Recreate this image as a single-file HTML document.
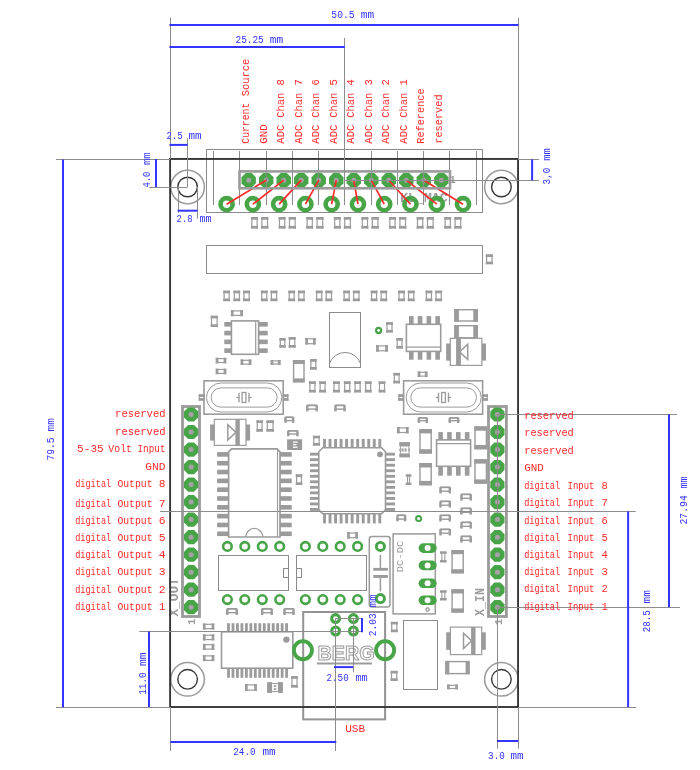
<!DOCTYPE html>
<html><head><meta charset="utf-8"><title>Board dimensions</title>
<style>html,body{margin:0;padding:0;background:#fff}svg{display:block}</style></head><body>
<svg width="700" height="770" viewBox="0 0 700 770" style="will-change:transform">
<rect width="700" height="770" fill="#ffffff"/>
<g id="silk">
<rect x="206.5" y="149.5" width="276" height="63" fill="none" stroke="#8c8c8c" stroke-width="1"/>
<rect x="206.5" y="245.5" width="276" height="28" fill="none" stroke="#8c8c8c" stroke-width="1"/>
<rect x="251" y="217" width="7" height="2.7" fill="#9b9b9b"/>
<rect x="251" y="225.9" width="7" height="2.7" fill="#9b9b9b"/>
<rect x="251.3" y="217" width="1.2" height="11.6" fill="#9b9b9b"/>
<rect x="256.5" y="217" width="1.2" height="11.6" fill="#9b9b9b"/>
<rect x="261" y="217" width="7.4" height="2.7" fill="#9b9b9b"/>
<rect x="261" y="225.9" width="7.4" height="2.7" fill="#9b9b9b"/>
<rect x="261.3" y="217" width="1.2" height="11.6" fill="#9b9b9b"/>
<rect x="266.9" y="217" width="1.2" height="11.6" fill="#9b9b9b"/>
<rect x="278.6" y="217" width="7" height="2.7" fill="#9b9b9b"/>
<rect x="278.6" y="225.9" width="7" height="2.7" fill="#9b9b9b"/>
<rect x="278.9" y="217" width="1.2" height="11.6" fill="#9b9b9b"/>
<rect x="284.1" y="217" width="1.2" height="11.6" fill="#9b9b9b"/>
<rect x="288.6" y="217" width="7.4" height="2.7" fill="#9b9b9b"/>
<rect x="288.6" y="225.9" width="7.4" height="2.7" fill="#9b9b9b"/>
<rect x="288.9" y="217" width="1.2" height="11.6" fill="#9b9b9b"/>
<rect x="294.5" y="217" width="1.2" height="11.6" fill="#9b9b9b"/>
<rect x="306.2" y="217" width="7" height="2.7" fill="#9b9b9b"/>
<rect x="306.2" y="225.9" width="7" height="2.7" fill="#9b9b9b"/>
<rect x="306.5" y="217" width="1.2" height="11.6" fill="#9b9b9b"/>
<rect x="311.7" y="217" width="1.2" height="11.6" fill="#9b9b9b"/>
<rect x="316.2" y="217" width="7.4" height="2.7" fill="#9b9b9b"/>
<rect x="316.2" y="225.9" width="7.4" height="2.7" fill="#9b9b9b"/>
<rect x="316.5" y="217" width="1.2" height="11.6" fill="#9b9b9b"/>
<rect x="322.1" y="217" width="1.2" height="11.6" fill="#9b9b9b"/>
<rect x="333.8" y="217" width="7" height="2.7" fill="#9b9b9b"/>
<rect x="333.8" y="225.9" width="7" height="2.7" fill="#9b9b9b"/>
<rect x="334.1" y="217" width="1.2" height="11.6" fill="#9b9b9b"/>
<rect x="339.3" y="217" width="1.2" height="11.6" fill="#9b9b9b"/>
<rect x="343.8" y="217" width="7.4" height="2.7" fill="#9b9b9b"/>
<rect x="343.8" y="225.9" width="7.4" height="2.7" fill="#9b9b9b"/>
<rect x="344.1" y="217" width="1.2" height="11.6" fill="#9b9b9b"/>
<rect x="349.7" y="217" width="1.2" height="11.6" fill="#9b9b9b"/>
<rect x="361.4" y="217" width="7" height="2.7" fill="#9b9b9b"/>
<rect x="361.4" y="225.9" width="7" height="2.7" fill="#9b9b9b"/>
<rect x="361.7" y="217" width="1.2" height="11.6" fill="#9b9b9b"/>
<rect x="366.9" y="217" width="1.2" height="11.6" fill="#9b9b9b"/>
<rect x="371.4" y="217" width="7.4" height="2.7" fill="#9b9b9b"/>
<rect x="371.4" y="225.9" width="7.4" height="2.7" fill="#9b9b9b"/>
<rect x="371.7" y="217" width="1.2" height="11.6" fill="#9b9b9b"/>
<rect x="377.3" y="217" width="1.2" height="11.6" fill="#9b9b9b"/>
<rect x="389" y="217" width="7" height="2.7" fill="#9b9b9b"/>
<rect x="389" y="225.9" width="7" height="2.7" fill="#9b9b9b"/>
<rect x="389.3" y="217" width="1.2" height="11.6" fill="#9b9b9b"/>
<rect x="394.5" y="217" width="1.2" height="11.6" fill="#9b9b9b"/>
<rect x="399" y="217" width="7.4" height="2.7" fill="#9b9b9b"/>
<rect x="399" y="225.9" width="7.4" height="2.7" fill="#9b9b9b"/>
<rect x="399.3" y="217" width="1.2" height="11.6" fill="#9b9b9b"/>
<rect x="404.9" y="217" width="1.2" height="11.6" fill="#9b9b9b"/>
<rect x="416.6" y="217" width="7" height="2.7" fill="#9b9b9b"/>
<rect x="416.6" y="225.9" width="7" height="2.7" fill="#9b9b9b"/>
<rect x="416.9" y="217" width="1.2" height="11.6" fill="#9b9b9b"/>
<rect x="422.1" y="217" width="1.2" height="11.6" fill="#9b9b9b"/>
<rect x="426.6" y="217" width="7.4" height="2.7" fill="#9b9b9b"/>
<rect x="426.6" y="225.9" width="7.4" height="2.7" fill="#9b9b9b"/>
<rect x="426.9" y="217" width="1.2" height="11.6" fill="#9b9b9b"/>
<rect x="432.5" y="217" width="1.2" height="11.6" fill="#9b9b9b"/>
<rect x="444.2" y="217" width="7" height="2.7" fill="#9b9b9b"/>
<rect x="444.2" y="225.9" width="7" height="2.7" fill="#9b9b9b"/>
<rect x="444.5" y="217" width="1.2" height="11.6" fill="#9b9b9b"/>
<rect x="449.7" y="217" width="1.2" height="11.6" fill="#9b9b9b"/>
<rect x="454.2" y="217" width="7.4" height="2.7" fill="#9b9b9b"/>
<rect x="454.2" y="225.9" width="7.4" height="2.7" fill="#9b9b9b"/>
<rect x="454.5" y="217" width="1.2" height="11.6" fill="#9b9b9b"/>
<rect x="460.1" y="217" width="1.2" height="11.6" fill="#9b9b9b"/>
<text x="400.2" y="202.3" fill="#9b9b9b" font-size="13" font-family="Liberation Mono, sans-serif" text-anchor="start" font-weight="bold" textLength="47.5" lengthAdjust="spacingAndGlyphs">KL_MAC</text>
<text x="449.6" y="183.4" fill="#9b9b9b" font-size="10.5" font-family="Liberation Mono, sans-serif" text-anchor="start" font-weight="bold">1</text>
<rect x="485.7" y="254.3" width="7.2" height="2.7" fill="#9b9b9b"/>
<rect x="485.7" y="261.6" width="7.2" height="2.7" fill="#9b9b9b"/>
<rect x="486" y="254.3" width="1.2" height="10" fill="#9b9b9b"/>
<rect x="491.4" y="254.3" width="1.2" height="10" fill="#9b9b9b"/>
<rect x="223.2" y="290.6" width="6.8" height="2.7" fill="#9b9b9b"/>
<rect x="223.2" y="298.5" width="6.8" height="2.7" fill="#9b9b9b"/>
<rect x="223.5" y="290.6" width="1.2" height="10.6" fill="#9b9b9b"/>
<rect x="228.5" y="290.6" width="1.2" height="10.6" fill="#9b9b9b"/>
<rect x="233.4" y="290.6" width="6.8" height="2.7" fill="#9b9b9b"/>
<rect x="233.4" y="298.5" width="6.8" height="2.7" fill="#9b9b9b"/>
<rect x="233.7" y="290.6" width="1.2" height="10.6" fill="#9b9b9b"/>
<rect x="238.7" y="290.6" width="1.2" height="10.6" fill="#9b9b9b"/>
<rect x="243" y="290.6" width="7" height="2.7" fill="#9b9b9b"/>
<rect x="243" y="298.5" width="7" height="2.7" fill="#9b9b9b"/>
<rect x="243.3" y="290.6" width="1.2" height="10.6" fill="#9b9b9b"/>
<rect x="248.5" y="290.6" width="1.2" height="10.6" fill="#9b9b9b"/>
<rect x="260.85" y="290.6" width="6.8" height="2.7" fill="#9b9b9b"/>
<rect x="260.85" y="298.5" width="6.8" height="2.7" fill="#9b9b9b"/>
<rect x="261.15" y="290.6" width="1.2" height="10.6" fill="#9b9b9b"/>
<rect x="266.15" y="290.6" width="1.2" height="10.6" fill="#9b9b9b"/>
<rect x="270.45" y="290.6" width="7" height="2.7" fill="#9b9b9b"/>
<rect x="270.45" y="298.5" width="7" height="2.7" fill="#9b9b9b"/>
<rect x="270.75" y="290.6" width="1.2" height="10.6" fill="#9b9b9b"/>
<rect x="275.95" y="290.6" width="1.2" height="10.6" fill="#9b9b9b"/>
<rect x="288.3" y="290.6" width="6.8" height="2.7" fill="#9b9b9b"/>
<rect x="288.3" y="298.5" width="6.8" height="2.7" fill="#9b9b9b"/>
<rect x="288.6" y="290.6" width="1.2" height="10.6" fill="#9b9b9b"/>
<rect x="293.6" y="290.6" width="1.2" height="10.6" fill="#9b9b9b"/>
<rect x="297.9" y="290.6" width="7" height="2.7" fill="#9b9b9b"/>
<rect x="297.9" y="298.5" width="7" height="2.7" fill="#9b9b9b"/>
<rect x="298.2" y="290.6" width="1.2" height="10.6" fill="#9b9b9b"/>
<rect x="303.4" y="290.6" width="1.2" height="10.6" fill="#9b9b9b"/>
<rect x="315.75" y="290.6" width="6.8" height="2.7" fill="#9b9b9b"/>
<rect x="315.75" y="298.5" width="6.8" height="2.7" fill="#9b9b9b"/>
<rect x="316.05" y="290.6" width="1.2" height="10.6" fill="#9b9b9b"/>
<rect x="321.05" y="290.6" width="1.2" height="10.6" fill="#9b9b9b"/>
<rect x="325.35" y="290.6" width="7" height="2.7" fill="#9b9b9b"/>
<rect x="325.35" y="298.5" width="7" height="2.7" fill="#9b9b9b"/>
<rect x="325.65" y="290.6" width="1.2" height="10.6" fill="#9b9b9b"/>
<rect x="330.85" y="290.6" width="1.2" height="10.6" fill="#9b9b9b"/>
<rect x="343.2" y="290.6" width="6.8" height="2.7" fill="#9b9b9b"/>
<rect x="343.2" y="298.5" width="6.8" height="2.7" fill="#9b9b9b"/>
<rect x="343.5" y="290.6" width="1.2" height="10.6" fill="#9b9b9b"/>
<rect x="348.5" y="290.6" width="1.2" height="10.6" fill="#9b9b9b"/>
<rect x="352.8" y="290.6" width="7" height="2.7" fill="#9b9b9b"/>
<rect x="352.8" y="298.5" width="7" height="2.7" fill="#9b9b9b"/>
<rect x="353.1" y="290.6" width="1.2" height="10.6" fill="#9b9b9b"/>
<rect x="358.3" y="290.6" width="1.2" height="10.6" fill="#9b9b9b"/>
<rect x="370.65" y="290.6" width="6.8" height="2.7" fill="#9b9b9b"/>
<rect x="370.65" y="298.5" width="6.8" height="2.7" fill="#9b9b9b"/>
<rect x="370.95" y="290.6" width="1.2" height="10.6" fill="#9b9b9b"/>
<rect x="375.95" y="290.6" width="1.2" height="10.6" fill="#9b9b9b"/>
<rect x="380.25" y="290.6" width="7" height="2.7" fill="#9b9b9b"/>
<rect x="380.25" y="298.5" width="7" height="2.7" fill="#9b9b9b"/>
<rect x="380.55" y="290.6" width="1.2" height="10.6" fill="#9b9b9b"/>
<rect x="385.75" y="290.6" width="1.2" height="10.6" fill="#9b9b9b"/>
<rect x="398.1" y="290.6" width="6.8" height="2.7" fill="#9b9b9b"/>
<rect x="398.1" y="298.5" width="6.8" height="2.7" fill="#9b9b9b"/>
<rect x="398.4" y="290.6" width="1.2" height="10.6" fill="#9b9b9b"/>
<rect x="403.4" y="290.6" width="1.2" height="10.6" fill="#9b9b9b"/>
<rect x="407.7" y="290.6" width="7" height="2.7" fill="#9b9b9b"/>
<rect x="407.7" y="298.5" width="7" height="2.7" fill="#9b9b9b"/>
<rect x="408" y="290.6" width="1.2" height="10.6" fill="#9b9b9b"/>
<rect x="413.2" y="290.6" width="1.2" height="10.6" fill="#9b9b9b"/>
<rect x="425.55" y="290.6" width="6.8" height="2.7" fill="#9b9b9b"/>
<rect x="425.55" y="298.5" width="6.8" height="2.7" fill="#9b9b9b"/>
<rect x="425.85" y="290.6" width="1.2" height="10.6" fill="#9b9b9b"/>
<rect x="430.85" y="290.6" width="1.2" height="10.6" fill="#9b9b9b"/>
<rect x="435.15" y="290.6" width="7" height="2.7" fill="#9b9b9b"/>
<rect x="435.15" y="298.5" width="7" height="2.7" fill="#9b9b9b"/>
<rect x="435.45" y="290.6" width="1.2" height="10.6" fill="#9b9b9b"/>
<rect x="440.65" y="290.6" width="1.2" height="10.6" fill="#9b9b9b"/>
<rect x="230.9" y="310" width="2.7" height="6.3" fill="#9b9b9b"/>
<rect x="240.2" y="310" width="2.7" height="6.3" fill="#9b9b9b"/>
<rect x="230.9" y="310.3" width="12" height="1.2" fill="#9b9b9b"/>
<rect x="230.9" y="314.8" width="12" height="1.2" fill="#9b9b9b"/>
<rect x="210.6" y="315.7" width="7.4" height="2.7" fill="#9b9b9b"/>
<rect x="210.6" y="324.3" width="7.4" height="2.7" fill="#9b9b9b"/>
<rect x="210.9" y="315.7" width="1.2" height="11.3" fill="#9b9b9b"/>
<rect x="216.5" y="315.7" width="1.2" height="11.3" fill="#9b9b9b"/>
<rect x="231.4" y="320.9" width="27.2" height="33.4" fill="none" stroke="#9b9b9b" stroke-width="1.6"/>
<line x1="255.7" y1="320.9" x2="255.7" y2="354.3" stroke="#9b9b9b" stroke-width="1.2" />
<rect x="224.3" y="322" width="7.1" height="4.6" fill="#9b9b9b"/>
<rect x="258.6" y="322" width="9.1" height="4.6" fill="#9b9b9b"/>
<rect x="224.3" y="330.78" width="7.1" height="4.6" fill="#9b9b9b"/>
<rect x="258.6" y="330.78" width="9.1" height="4.6" fill="#9b9b9b"/>
<rect x="224.3" y="339.56" width="7.1" height="4.6" fill="#9b9b9b"/>
<rect x="258.6" y="339.56" width="9.1" height="4.6" fill="#9b9b9b"/>
<rect x="224.3" y="348.34" width="7.1" height="4.6" fill="#9b9b9b"/>
<rect x="258.6" y="348.34" width="9.1" height="4.6" fill="#9b9b9b"/>
<rect x="279.4" y="338" width="6.3" height="2.7" fill="#9b9b9b"/>
<rect x="279.4" y="345" width="6.3" height="2.7" fill="#9b9b9b"/>
<rect x="279.7" y="338" width="1.2" height="9.7" fill="#9b9b9b"/>
<rect x="284.2" y="338" width="1.2" height="9.7" fill="#9b9b9b"/>
<rect x="288.6" y="337" width="7.1" height="2.7" fill="#9b9b9b"/>
<rect x="288.6" y="345" width="7.1" height="2.7" fill="#9b9b9b"/>
<rect x="288.9" y="337" width="1.2" height="10.7" fill="#9b9b9b"/>
<rect x="294.2" y="337" width="1.2" height="10.7" fill="#9b9b9b"/>
<rect x="305.3" y="337.9" width="2.7" height="6.7" fill="#9b9b9b"/>
<rect x="313" y="337.9" width="2.7" height="6.7" fill="#9b9b9b"/>
<rect x="305.3" y="338.2" width="10.4" height="1.2" fill="#9b9b9b"/>
<rect x="305.3" y="343.1" width="10.4" height="1.2" fill="#9b9b9b"/>
<rect x="215.7" y="357.7" width="2.7" height="5.7" fill="#9b9b9b"/>
<rect x="223.6" y="357.7" width="2.7" height="5.7" fill="#9b9b9b"/>
<rect x="215.7" y="358" width="10.6" height="1.2" fill="#9b9b9b"/>
<rect x="215.7" y="361.9" width="10.6" height="1.2" fill="#9b9b9b"/>
<rect x="215.7" y="368.6" width="2.7" height="5.7" fill="#9b9b9b"/>
<rect x="223.6" y="368.6" width="2.7" height="5.7" fill="#9b9b9b"/>
<rect x="215.7" y="368.9" width="10.6" height="1.2" fill="#9b9b9b"/>
<rect x="215.7" y="372.8" width="10.6" height="1.2" fill="#9b9b9b"/>
<rect x="240.6" y="359.4" width="2.7" height="5.6" fill="#9b9b9b"/>
<rect x="248.7" y="359.4" width="2.7" height="5.6" fill="#9b9b9b"/>
<rect x="240.6" y="359.7" width="10.8" height="1.2" fill="#9b9b9b"/>
<rect x="240.6" y="363.5" width="10.8" height="1.2" fill="#9b9b9b"/>
<rect x="270.6" y="360" width="2.7" height="4.9" fill="#9b9b9b"/>
<rect x="277.9" y="360" width="2.7" height="4.9" fill="#9b9b9b"/>
<rect x="270.6" y="360.3" width="10" height="1.2" fill="#9b9b9b"/>
<rect x="270.6" y="363.4" width="10" height="1.2" fill="#9b9b9b"/>
<rect x="293.6" y="360.7" width="10.4" height="21" fill="none" stroke="#9b9b9b" stroke-width="1.4"/>
<rect x="292.9" y="360" width="11.8" height="4" fill="#9b9b9b"/>
<rect x="292.9" y="378.4" width="11.8" height="4" fill="#9b9b9b"/>
<rect x="310" y="359" width="6.7" height="2.7" fill="#9b9b9b"/>
<rect x="310" y="367" width="6.7" height="2.7" fill="#9b9b9b"/>
<rect x="310.3" y="359" width="1.2" height="10.7" fill="#9b9b9b"/>
<rect x="315.2" y="359" width="1.2" height="10.7" fill="#9b9b9b"/>
<rect x="329.5" y="312.5" width="31" height="55" fill="none" stroke="#8c8c8c" stroke-width="1"/>
<path d="M329.4 363.6 A16.5 16.5 0 0 1 360.6 363.6" fill="none" stroke="#8c8c8c" stroke-width="1"/>
<rect x="309" y="381.3" width="6.8" height="2.7" fill="#9b9b9b"/>
<rect x="309" y="389.8" width="6.8" height="2.7" fill="#9b9b9b"/>
<rect x="309.3" y="381.3" width="1.2" height="11.2" fill="#9b9b9b"/>
<rect x="314.3" y="381.3" width="1.2" height="11.2" fill="#9b9b9b"/>
<rect x="319.2" y="381.3" width="6.8" height="2.7" fill="#9b9b9b"/>
<rect x="319.2" y="389.8" width="6.8" height="2.7" fill="#9b9b9b"/>
<rect x="319.5" y="381.3" width="1.2" height="11.2" fill="#9b9b9b"/>
<rect x="324.5" y="381.3" width="1.2" height="11.2" fill="#9b9b9b"/>
<rect x="333.1" y="381.3" width="6.8" height="2.7" fill="#9b9b9b"/>
<rect x="333.1" y="389.8" width="6.8" height="2.7" fill="#9b9b9b"/>
<rect x="333.4" y="381.3" width="1.2" height="11.2" fill="#9b9b9b"/>
<rect x="338.4" y="381.3" width="1.2" height="11.2" fill="#9b9b9b"/>
<rect x="343.8" y="381.3" width="6.8" height="2.7" fill="#9b9b9b"/>
<rect x="343.8" y="389.8" width="6.8" height="2.7" fill="#9b9b9b"/>
<rect x="344.1" y="381.3" width="1.2" height="11.2" fill="#9b9b9b"/>
<rect x="349.1" y="381.3" width="1.2" height="11.2" fill="#9b9b9b"/>
<rect x="354.2" y="381.3" width="6.8" height="2.7" fill="#9b9b9b"/>
<rect x="354.2" y="389.8" width="6.8" height="2.7" fill="#9b9b9b"/>
<rect x="354.5" y="381.3" width="1.2" height="11.2" fill="#9b9b9b"/>
<rect x="359.5" y="381.3" width="1.2" height="11.2" fill="#9b9b9b"/>
<rect x="364.8" y="381.3" width="6.8" height="2.7" fill="#9b9b9b"/>
<rect x="364.8" y="389.8" width="6.8" height="2.7" fill="#9b9b9b"/>
<rect x="365.1" y="381.3" width="1.2" height="11.2" fill="#9b9b9b"/>
<rect x="370.1" y="381.3" width="1.2" height="11.2" fill="#9b9b9b"/>
<rect x="378.6" y="381.3" width="6.8" height="2.7" fill="#9b9b9b"/>
<rect x="378.6" y="389.8" width="6.8" height="2.7" fill="#9b9b9b"/>
<rect x="378.9" y="381.3" width="1.2" height="11.2" fill="#9b9b9b"/>
<rect x="383.9" y="381.3" width="1.2" height="11.2" fill="#9b9b9b"/>
<circle cx="378.6" cy="330.4" r="3.6" fill="#47a447"/>
<circle cx="378.6" cy="330.4" r="1.4" fill="#fff"/>
<rect x="386.1" y="322.1" width="6.8" height="2.7" fill="#9b9b9b"/>
<rect x="386.1" y="329.9" width="6.8" height="2.7" fill="#9b9b9b"/>
<rect x="386.4" y="322.1" width="1.2" height="10.5" fill="#9b9b9b"/>
<rect x="391.4" y="322.1" width="1.2" height="10.5" fill="#9b9b9b"/>
<rect x="376.1" y="345" width="2.7" height="6.7" fill="#9b9b9b"/>
<rect x="385.2" y="345" width="2.7" height="6.7" fill="#9b9b9b"/>
<rect x="376.1" y="345.3" width="11.8" height="1.2" fill="#9b9b9b"/>
<rect x="376.1" y="350.2" width="11.8" height="1.2" fill="#9b9b9b"/>
<rect x="396.3" y="338" width="6.6" height="2.7" fill="#9b9b9b"/>
<rect x="396.3" y="345.9" width="6.6" height="2.7" fill="#9b9b9b"/>
<rect x="396.6" y="338" width="1.2" height="10.6" fill="#9b9b9b"/>
<rect x="401.4" y="338" width="1.2" height="10.6" fill="#9b9b9b"/>
<rect x="406.4" y="324.3" width="34.3" height="27.1" fill="none" stroke="#9b9b9b" stroke-width="1.6"/>
<line x1="406.4" y1="347.1" x2="440.7" y2="347.1" stroke="#9b9b9b" stroke-width="1.4" />
<rect x="409" y="316.1" width="4.6" height="8.2" fill="#9b9b9b"/>
<rect x="409" y="351.4" width="4.6" height="8.3" fill="#9b9b9b"/>
<rect x="417.78" y="316.1" width="4.6" height="8.2" fill="#9b9b9b"/>
<rect x="417.78" y="351.4" width="4.6" height="8.3" fill="#9b9b9b"/>
<rect x="426.56" y="316.1" width="4.6" height="8.2" fill="#9b9b9b"/>
<rect x="426.56" y="351.4" width="4.6" height="8.3" fill="#9b9b9b"/>
<rect x="435.34" y="316.1" width="4.6" height="8.2" fill="#9b9b9b"/>
<rect x="435.34" y="351.4" width="4.6" height="8.3" fill="#9b9b9b"/>
<rect x="455" y="309.7" width="22.2" height="11.3" fill="none" stroke="#9b9b9b" stroke-width="1.4"/>
<rect x="454.3" y="309" width="4.6" height="12.7" fill="#9b9b9b"/>
<rect x="473.3" y="309" width="4.6" height="12.7" fill="#9b9b9b"/>
<rect x="455" y="325.7" width="22.2" height="12.1" fill="none" stroke="#9b9b9b" stroke-width="1.4"/>
<rect x="454.3" y="325" width="4.6" height="13.5" fill="#9b9b9b"/>
<rect x="473.3" y="325" width="4.6" height="13.5" fill="#9b9b9b"/>
<rect x="450.3" y="338.3" width="31.6" height="27.1" fill="#fff" stroke="#9b9b9b" stroke-width="1.2"/>
<rect x="446.1" y="343.5" width="4.2" height="17.1" fill="#9b9b9b"/>
<rect x="481.9" y="343.5" width="4.1" height="17.1" fill="#9b9b9b"/>
<rect x="456.1" y="338.3" width="4.8" height="27.1" fill="#9b9b9b"/>
<path d="M459.5 351.85 L467.7 344.25 L467.7 359.45 Z" fill="none" stroke="#9b9b9b" stroke-width="1.5"/>
<rect x="393.4" y="372.9" width="6.6" height="2.7" fill="#9b9b9b"/>
<rect x="393.4" y="380.7" width="6.6" height="2.7" fill="#9b9b9b"/>
<rect x="393.7" y="372.9" width="1.2" height="10.5" fill="#9b9b9b"/>
<rect x="398.5" y="372.9" width="1.2" height="10.5" fill="#9b9b9b"/>
<rect x="417.7" y="371.4" width="2.7" height="5.6" fill="#9b9b9b"/>
<rect x="424.8" y="371.4" width="2.7" height="5.6" fill="#9b9b9b"/>
<rect x="417.7" y="371.7" width="9.8" height="1.2" fill="#9b9b9b"/>
<rect x="417.7" y="375.5" width="9.8" height="1.2" fill="#9b9b9b"/>
<rect x="204" y="380.8" width="79.2" height="33.4" fill="none" stroke="#9b9b9b" stroke-width="1.6"/>
<rect x="198.6" y="394.2" width="5.9" height="2.7" fill="#9b9b9b"/>
<rect x="198.6" y="398.1" width="5.9" height="2.7" fill="#9b9b9b"/>
<rect x="198.9" y="394.2" width="1.2" height="6.6" fill="#9b9b9b"/>
<rect x="203" y="394.2" width="1.2" height="6.6" fill="#9b9b9b"/>
<rect x="282.7" y="394.2" width="5.9" height="2.7" fill="#9b9b9b"/>
<rect x="282.7" y="398.1" width="5.9" height="2.7" fill="#9b9b9b"/>
<rect x="283" y="394.2" width="1.2" height="6.6" fill="#9b9b9b"/>
<rect x="287.1" y="394.2" width="1.2" height="6.6" fill="#9b9b9b"/>
<rect x="206.5" y="383" width="75.3" height="29" fill="none" stroke="#9b9b9b" stroke-width="1" rx="14.5"/>
<rect x="211.2" y="387.9" width="65.9" height="19.2" fill="none" stroke="#9b9b9b" stroke-width="1" rx="9.6"/>
<line x1="236.3" y1="397.5" x2="239" y2="397.5" stroke="#9b9b9b" stroke-width="1.3" />
<line x1="249" y1="397.5" x2="251.7" y2="397.5" stroke="#9b9b9b" stroke-width="1.3" />
<line x1="239" y1="392.7" x2="239" y2="402.3" stroke="#9b9b9b" stroke-width="1.4" />
<line x1="249" y1="392.7" x2="249" y2="402.3" stroke="#9b9b9b" stroke-width="1.4" />
<rect x="242.1" y="392.5" width="3.8" height="10" fill="none" stroke="#9b9b9b" stroke-width="1.3"/>
<rect x="403.6" y="380.8" width="79" height="33.4" fill="none" stroke="#9b9b9b" stroke-width="1.6"/>
<rect x="398.2" y="394.2" width="5.9" height="2.7" fill="#9b9b9b"/>
<rect x="398.2" y="398.1" width="5.9" height="2.7" fill="#9b9b9b"/>
<rect x="398.5" y="394.2" width="1.2" height="6.6" fill="#9b9b9b"/>
<rect x="402.6" y="394.2" width="1.2" height="6.6" fill="#9b9b9b"/>
<rect x="482.1" y="394.2" width="5.9" height="2.7" fill="#9b9b9b"/>
<rect x="482.1" y="398.1" width="5.9" height="2.7" fill="#9b9b9b"/>
<rect x="482.4" y="394.2" width="1.2" height="6.6" fill="#9b9b9b"/>
<rect x="486.5" y="394.2" width="1.2" height="6.6" fill="#9b9b9b"/>
<rect x="406.1" y="383" width="75.1" height="29" fill="none" stroke="#9b9b9b" stroke-width="1" rx="14.5"/>
<rect x="410.8" y="387.9" width="65.7" height="19.2" fill="none" stroke="#9b9b9b" stroke-width="1" rx="9.6"/>
<line x1="435.8" y1="397.5" x2="438.5" y2="397.5" stroke="#9b9b9b" stroke-width="1.3" />
<line x1="448.5" y1="397.5" x2="451.2" y2="397.5" stroke="#9b9b9b" stroke-width="1.3" />
<line x1="438.5" y1="392.7" x2="438.5" y2="402.3" stroke="#9b9b9b" stroke-width="1.4" />
<line x1="448.5" y1="392.7" x2="448.5" y2="402.3" stroke="#9b9b9b" stroke-width="1.4" />
<rect x="441.6" y="392.5" width="3.8" height="10" fill="none" stroke="#9b9b9b" stroke-width="1.3"/>
<rect x="182.5" y="406.5" width="17" height="210" fill="none" stroke="#9b9b9b" stroke-width="2.8"/>
<rect x="488.5" y="406.5" width="17.9" height="210" fill="none" stroke="#9b9b9b" stroke-width="2.8"/>
<rect x="214.3" y="419.3" width="31.7" height="26.1" fill="#fff" stroke="#9b9b9b" stroke-width="1.2"/>
<rect x="210.1" y="424.5" width="4.2" height="16.1" fill="#9b9b9b"/>
<rect x="246" y="424.5" width="4.1" height="16.1" fill="#9b9b9b"/>
<rect x="235.4" y="419.3" width="4.4" height="26.1" fill="#9b9b9b"/>
<path d="M236 432.35 L227.8 424.75 L227.8 439.95 Z" fill="none" stroke="#9b9b9b" stroke-width="1.5"/>
<rect x="256.4" y="420.3" width="6.5" height="2.7" fill="#9b9b9b"/>
<rect x="256.4" y="429" width="6.5" height="2.7" fill="#9b9b9b"/>
<rect x="256.7" y="420.3" width="1.2" height="11.4" fill="#9b9b9b"/>
<rect x="261.4" y="420.3" width="1.2" height="11.4" fill="#9b9b9b"/>
<rect x="266.4" y="420.3" width="7.5" height="2.7" fill="#9b9b9b"/>
<rect x="266.4" y="429" width="7.5" height="2.7" fill="#9b9b9b"/>
<rect x="266.7" y="420.3" width="1.2" height="11.4" fill="#9b9b9b"/>
<rect x="272.4" y="420.3" width="1.2" height="11.4" fill="#9b9b9b"/>
<rect x="284.3" y="417" width="2.4" height="5.9" fill="#9b9b9b"/>
<rect x="291.9" y="417" width="2.4" height="5.9" fill="#9b9b9b"/>
<rect x="285.2" y="416.3" width="8.2" height="1.8" fill="#9b9b9b"/>
<rect x="284.3" y="419.9" width="10" height="1.4" fill="#9b9b9b"/>
<rect x="287" y="430.7" width="2.4" height="5.6" fill="#9b9b9b"/>
<rect x="296.2" y="430.7" width="2.4" height="5.6" fill="#9b9b9b"/>
<rect x="287.9" y="430" width="9.8" height="1.8" fill="#9b9b9b"/>
<rect x="287" y="433.3" width="11.6" height="1.4" fill="#9b9b9b"/>
<rect x="287.1" y="439.3" width="15" height="10.7" fill="#9b9b9b"/>
<rect x="293" y="441.5" width="4.5" height="1.3" fill="#fff"/>
<rect x="293" y="444" width="3.5" height="1.3" fill="#fff"/>
<rect x="293" y="446.6" width="4.5" height="1.3" fill="#fff"/>
<rect x="312.9" y="435.7" width="7.1" height="2.7" fill="#9b9b9b"/>
<rect x="312.9" y="443" width="7.1" height="2.7" fill="#9b9b9b"/>
<rect x="313.2" y="435.7" width="1.2" height="10" fill="#9b9b9b"/>
<rect x="318.5" y="435.7" width="1.2" height="10" fill="#9b9b9b"/>
<rect x="295.7" y="474.3" width="6.6" height="2.7" fill="#9b9b9b"/>
<rect x="295.7" y="482.3" width="6.6" height="2.7" fill="#9b9b9b"/>
<rect x="296" y="474.3" width="1.2" height="10.7" fill="#9b9b9b"/>
<rect x="300.8" y="474.3" width="1.2" height="10.7" fill="#9b9b9b"/>
<rect x="306.1" y="405.1" width="2.4" height="6.3" fill="#9b9b9b"/>
<rect x="315.5" y="405.1" width="2.4" height="6.3" fill="#9b9b9b"/>
<rect x="307" y="404.4" width="10" height="1.8" fill="#9b9b9b"/>
<rect x="306.1" y="408.4" width="11.8" height="1.4" fill="#9b9b9b"/>
<rect x="334.3" y="405.1" width="2.4" height="6.3" fill="#9b9b9b"/>
<rect x="343.3" y="405.1" width="2.4" height="6.3" fill="#9b9b9b"/>
<rect x="335.2" y="404.4" width="9.6" height="1.8" fill="#9b9b9b"/>
<rect x="334.3" y="408.4" width="11.4" height="1.4" fill="#9b9b9b"/>
<path d="M231.6 448.9 L277 448.9 L280 451.9 L280 537 L228.6 537 L228.6 451.9 Z" fill="none" stroke="#9b9b9b" stroke-width="1.7"/>
<line x1="277.5" y1="449.5" x2="277.5" y2="537" stroke="#9b9b9b" stroke-width="1.1" />
<rect x="217.1" y="452.1" width="11.5" height="4.6" fill="#9b9b9b"/>
<rect x="280" y="452.1" width="11.7" height="4.6" fill="#9b9b9b"/>
<rect x="217.1" y="460.92" width="11.5" height="4.6" fill="#9b9b9b"/>
<rect x="280" y="460.92" width="11.7" height="4.6" fill="#9b9b9b"/>
<rect x="217.1" y="469.74" width="11.5" height="4.6" fill="#9b9b9b"/>
<rect x="280" y="469.74" width="11.7" height="4.6" fill="#9b9b9b"/>
<rect x="217.1" y="478.56" width="11.5" height="4.6" fill="#9b9b9b"/>
<rect x="280" y="478.56" width="11.7" height="4.6" fill="#9b9b9b"/>
<rect x="217.1" y="487.38" width="11.5" height="4.6" fill="#9b9b9b"/>
<rect x="280" y="487.38" width="11.7" height="4.6" fill="#9b9b9b"/>
<rect x="217.1" y="496.2" width="11.5" height="4.6" fill="#9b9b9b"/>
<rect x="280" y="496.2" width="11.7" height="4.6" fill="#9b9b9b"/>
<rect x="217.1" y="505.02" width="11.5" height="4.6" fill="#9b9b9b"/>
<rect x="280" y="505.02" width="11.7" height="4.6" fill="#9b9b9b"/>
<rect x="217.1" y="513.84" width="11.5" height="4.6" fill="#9b9b9b"/>
<rect x="280" y="513.84" width="11.7" height="4.6" fill="#9b9b9b"/>
<rect x="217.1" y="522.66" width="11.5" height="4.6" fill="#9b9b9b"/>
<rect x="280" y="522.66" width="11.7" height="4.6" fill="#9b9b9b"/>
<rect x="217.1" y="531.48" width="11.5" height="4.6" fill="#9b9b9b"/>
<rect x="280" y="531.48" width="11.7" height="4.6" fill="#9b9b9b"/>
<path d="M245.7 537 A8.6 8.6 0 0 1 262.9 537" fill="none" stroke="#9b9b9b" stroke-width="1.3"/>
<path d="M322.8 447.8 L381.5 447.8 L385.5 451.8 L385.5 509.8 L381.5 513.8 L322.8 513.8 L318.8 509.8 L318.8 451.8 Z" fill="none" stroke="#9b9b9b" stroke-width="1.6"/>
<rect x="323.05" y="438.9" width="2.9" height="8.9" fill="#9b9b9b"/>
<rect x="323.05" y="513.8" width="2.9" height="9.6" fill="#9b9b9b"/>
<rect x="310" y="452.7" width="8.8" height="2.9" fill="#9b9b9b"/>
<rect x="385.5" y="452.7" width="9.5" height="2.9" fill="#9b9b9b"/>
<rect x="328.58" y="438.9" width="2.9" height="8.9" fill="#9b9b9b"/>
<rect x="328.58" y="513.8" width="2.9" height="9.6" fill="#9b9b9b"/>
<rect x="310" y="458.23" width="8.8" height="2.9" fill="#9b9b9b"/>
<rect x="385.5" y="458.23" width="9.5" height="2.9" fill="#9b9b9b"/>
<rect x="334.11" y="438.9" width="2.9" height="8.9" fill="#9b9b9b"/>
<rect x="334.11" y="513.8" width="2.9" height="9.6" fill="#9b9b9b"/>
<rect x="310" y="463.76" width="8.8" height="2.9" fill="#9b9b9b"/>
<rect x="385.5" y="463.76" width="9.5" height="2.9" fill="#9b9b9b"/>
<rect x="339.64" y="438.9" width="2.9" height="8.9" fill="#9b9b9b"/>
<rect x="339.64" y="513.8" width="2.9" height="9.6" fill="#9b9b9b"/>
<rect x="310" y="469.29" width="8.8" height="2.9" fill="#9b9b9b"/>
<rect x="385.5" y="469.29" width="9.5" height="2.9" fill="#9b9b9b"/>
<rect x="345.17" y="438.9" width="2.9" height="8.9" fill="#9b9b9b"/>
<rect x="345.17" y="513.8" width="2.9" height="9.6" fill="#9b9b9b"/>
<rect x="310" y="474.82" width="8.8" height="2.9" fill="#9b9b9b"/>
<rect x="385.5" y="474.82" width="9.5" height="2.9" fill="#9b9b9b"/>
<rect x="350.7" y="438.9" width="2.9" height="8.9" fill="#9b9b9b"/>
<rect x="350.7" y="513.8" width="2.9" height="9.6" fill="#9b9b9b"/>
<rect x="310" y="480.35" width="8.8" height="2.9" fill="#9b9b9b"/>
<rect x="385.5" y="480.35" width="9.5" height="2.9" fill="#9b9b9b"/>
<rect x="356.23" y="438.9" width="2.9" height="8.9" fill="#9b9b9b"/>
<rect x="356.23" y="513.8" width="2.9" height="9.6" fill="#9b9b9b"/>
<rect x="310" y="485.88" width="8.8" height="2.9" fill="#9b9b9b"/>
<rect x="385.5" y="485.88" width="9.5" height="2.9" fill="#9b9b9b"/>
<rect x="361.76" y="438.9" width="2.9" height="8.9" fill="#9b9b9b"/>
<rect x="361.76" y="513.8" width="2.9" height="9.6" fill="#9b9b9b"/>
<rect x="310" y="491.41" width="8.8" height="2.9" fill="#9b9b9b"/>
<rect x="385.5" y="491.41" width="9.5" height="2.9" fill="#9b9b9b"/>
<rect x="367.29" y="438.9" width="2.9" height="8.9" fill="#9b9b9b"/>
<rect x="367.29" y="513.8" width="2.9" height="9.6" fill="#9b9b9b"/>
<rect x="310" y="496.94" width="8.8" height="2.9" fill="#9b9b9b"/>
<rect x="385.5" y="496.94" width="9.5" height="2.9" fill="#9b9b9b"/>
<rect x="372.82" y="438.9" width="2.9" height="8.9" fill="#9b9b9b"/>
<rect x="372.82" y="513.8" width="2.9" height="9.6" fill="#9b9b9b"/>
<rect x="310" y="502.47" width="8.8" height="2.9" fill="#9b9b9b"/>
<rect x="385.5" y="502.47" width="9.5" height="2.9" fill="#9b9b9b"/>
<rect x="378.35" y="438.9" width="2.9" height="8.9" fill="#9b9b9b"/>
<rect x="378.35" y="513.8" width="2.9" height="9.6" fill="#9b9b9b"/>
<rect x="310" y="508" width="8.8" height="2.9" fill="#9b9b9b"/>
<rect x="385.5" y="508" width="9.5" height="2.9" fill="#9b9b9b"/>
<circle cx="380" cy="454.3" r="2.9" fill="#9b9b9b"/>
<rect x="417.7" y="417.7" width="2.4" height="5.3" fill="#9b9b9b"/>
<rect x="425.6" y="417.7" width="2.4" height="5.3" fill="#9b9b9b"/>
<rect x="418.6" y="417" width="8.5" height="1.8" fill="#9b9b9b"/>
<rect x="417.7" y="420" width="10.3" height="1.4" fill="#9b9b9b"/>
<rect x="448.6" y="417.7" width="2.4" height="5.3" fill="#9b9b9b"/>
<rect x="457" y="417.7" width="2.4" height="5.3" fill="#9b9b9b"/>
<rect x="449.5" y="417" width="9" height="1.8" fill="#9b9b9b"/>
<rect x="448.6" y="420" width="10.8" height="1.4" fill="#9b9b9b"/>
<rect x="397" y="427" width="2.7" height="6.4" fill="#9b9b9b"/>
<rect x="405.9" y="427" width="2.7" height="6.4" fill="#9b9b9b"/>
<rect x="397" y="427.3" width="11.6" height="1.2" fill="#9b9b9b"/>
<rect x="397" y="431.9" width="11.6" height="1.2" fill="#9b9b9b"/>
<rect x="399.3" y="442.1" width="10.7" height="4.4" fill="#9b9b9b"/>
<rect x="399.3" y="453.4" width="10.7" height="4" fill="#9b9b9b"/>
<rect x="399.3" y="448.6" width="1.3" height="2.8" fill="#9b9b9b"/>
<rect x="408.7" y="448.6" width="1.3" height="2.8" fill="#9b9b9b"/>
<rect x="401.6" y="448.4" width="2" height="3.2" fill="#9b9b9b"/>
<rect x="404.6" y="448.4" width="2" height="3.2" fill="#9b9b9b"/>
<rect x="400" y="446.5" width="0.9" height="6.9" fill="#9b9b9b"/>
<rect x="408.4" y="446.5" width="0.9" height="6.9" fill="#9b9b9b"/>
<rect x="420" y="429.7" width="11.2" height="23.2" fill="none" stroke="#9b9b9b" stroke-width="1.4"/>
<rect x="419.3" y="429" width="12.6" height="4.4" fill="#9b9b9b"/>
<rect x="419.3" y="449.2" width="12.6" height="4.4" fill="#9b9b9b"/>
<rect x="420" y="463.8" width="11.2" height="20.8" fill="none" stroke="#9b9b9b" stroke-width="1.4"/>
<rect x="419.3" y="463.1" width="12.6" height="4.4" fill="#9b9b9b"/>
<rect x="419.3" y="480.9" width="12.6" height="4.4" fill="#9b9b9b"/>
<rect x="405.7" y="474.3" width="5.7" height="2.4" fill="#9b9b9b"/>
<rect x="405.7" y="482.6" width="5.7" height="2.4" fill="#9b9b9b"/>
<rect x="407" y="474.3" width="1.1" height="10.7" fill="#9b9b9b"/>
<rect x="409" y="474.3" width="1.1" height="10.7" fill="#9b9b9b"/>
<rect x="436.6" y="439.9" width="34" height="26.4" fill="none" stroke="#9b9b9b" stroke-width="1.6"/>
<line x1="436.6" y1="443.6" x2="470.6" y2="443.6" stroke="#9b9b9b" stroke-width="1.4" />
<rect x="438.3" y="432.1" width="4.6" height="7.9" fill="#9b9b9b"/>
<rect x="438.3" y="466.3" width="4.6" height="9.4" fill="#9b9b9b"/>
<rect x="447.15" y="432.1" width="4.6" height="7.9" fill="#9b9b9b"/>
<rect x="447.15" y="466.3" width="4.6" height="9.4" fill="#9b9b9b"/>
<rect x="456" y="432.1" width="4.6" height="7.9" fill="#9b9b9b"/>
<rect x="456" y="466.3" width="4.6" height="9.4" fill="#9b9b9b"/>
<rect x="464.85" y="432.1" width="4.6" height="7.9" fill="#9b9b9b"/>
<rect x="464.85" y="466.3" width="4.6" height="9.4" fill="#9b9b9b"/>
<rect x="475" y="427.1" width="11.4" height="21.5" fill="none" stroke="#9b9b9b" stroke-width="1.4"/>
<rect x="474.3" y="426.4" width="12.8" height="4.3" fill="#9b9b9b"/>
<rect x="474.3" y="445" width="12.8" height="4.3" fill="#9b9b9b"/>
<rect x="475" y="460" width="11.4" height="23" fill="none" stroke="#9b9b9b" stroke-width="1.4"/>
<rect x="474.3" y="459.3" width="12.8" height="4.3" fill="#9b9b9b"/>
<rect x="474.3" y="479.4" width="12.8" height="4.3" fill="#9b9b9b"/>
<rect x="439.3" y="487.1" width="2.4" height="6.4" fill="#9b9b9b"/>
<rect x="448.6" y="487.1" width="2.4" height="6.4" fill="#9b9b9b"/>
<rect x="440.2" y="486.4" width="9.9" height="1.8" fill="#9b9b9b"/>
<rect x="439.3" y="490.5" width="11.7" height="1.4" fill="#9b9b9b"/>
<rect x="460.3" y="494.1" width="2.4" height="6.5" fill="#9b9b9b"/>
<rect x="469.5" y="494.1" width="2.4" height="6.5" fill="#9b9b9b"/>
<rect x="461.2" y="493.4" width="9.8" height="1.8" fill="#9b9b9b"/>
<rect x="460.3" y="497.6" width="11.6" height="1.4" fill="#9b9b9b"/>
<rect x="439.3" y="501.1" width="2.4" height="6.4" fill="#9b9b9b"/>
<rect x="448.6" y="501.1" width="2.4" height="6.4" fill="#9b9b9b"/>
<rect x="440.2" y="500.4" width="9.9" height="1.8" fill="#9b9b9b"/>
<rect x="439.3" y="504.5" width="11.7" height="1.4" fill="#9b9b9b"/>
<rect x="460.3" y="508.1" width="2.4" height="6.5" fill="#9b9b9b"/>
<rect x="469.5" y="508.1" width="2.4" height="6.5" fill="#9b9b9b"/>
<rect x="461.2" y="507.4" width="9.8" height="1.8" fill="#9b9b9b"/>
<rect x="460.3" y="511.6" width="11.6" height="1.4" fill="#9b9b9b"/>
<rect x="439.3" y="515.1" width="2.4" height="6.4" fill="#9b9b9b"/>
<rect x="448.6" y="515.1" width="2.4" height="6.4" fill="#9b9b9b"/>
<rect x="440.2" y="514.4" width="9.9" height="1.8" fill="#9b9b9b"/>
<rect x="439.3" y="518.5" width="11.7" height="1.4" fill="#9b9b9b"/>
<rect x="460.3" y="522.1" width="2.4" height="6.5" fill="#9b9b9b"/>
<rect x="469.5" y="522.1" width="2.4" height="6.5" fill="#9b9b9b"/>
<rect x="461.2" y="521.4" width="9.8" height="1.8" fill="#9b9b9b"/>
<rect x="460.3" y="525.6" width="11.6" height="1.4" fill="#9b9b9b"/>
<rect x="439.3" y="529.1" width="2.4" height="6.4" fill="#9b9b9b"/>
<rect x="448.6" y="529.1" width="2.4" height="6.4" fill="#9b9b9b"/>
<rect x="440.2" y="528.4" width="9.9" height="1.8" fill="#9b9b9b"/>
<rect x="439.3" y="532.5" width="11.7" height="1.4" fill="#9b9b9b"/>
<rect x="460.3" y="536.1" width="2.4" height="6.5" fill="#9b9b9b"/>
<rect x="469.5" y="536.1" width="2.4" height="6.5" fill="#9b9b9b"/>
<rect x="461.2" y="535.4" width="9.8" height="1.8" fill="#9b9b9b"/>
<rect x="460.3" y="539.6" width="11.6" height="1.4" fill="#9b9b9b"/>
<rect x="396.3" y="515" width="2.4" height="6.4" fill="#9b9b9b"/>
<rect x="403.9" y="515" width="2.4" height="6.4" fill="#9b9b9b"/>
<rect x="397.2" y="514.3" width="8.2" height="1.8" fill="#9b9b9b"/>
<rect x="396.3" y="518.4" width="10" height="1.4" fill="#9b9b9b"/>
<circle cx="418.6" cy="518.6" r="3.5" fill="#47a447"/>
<circle cx="418.6" cy="518.6" r="1.5" fill="#fff"/>
<rect x="347.1" y="532.1" width="2.7" height="6.5" fill="#9b9b9b"/>
<rect x="355.2" y="532.1" width="2.7" height="6.5" fill="#9b9b9b"/>
<rect x="347.1" y="532.4" width="10.8" height="1.2" fill="#9b9b9b"/>
<rect x="347.1" y="537.1" width="10.8" height="1.2" fill="#9b9b9b"/>
<rect x="218.5" y="555.5" width="70" height="35" fill="none" stroke="#8c8c8c" stroke-width="1"/>
<rect x="283.5" y="568.5" width="5" height="9" fill="none" stroke="#8c8c8c" stroke-width="1"/>
<rect x="296.5" y="555.5" width="70" height="35" fill="none" stroke="#8c8c8c" stroke-width="1"/>
<rect x="296.5" y="568.5" width="5" height="9" fill="none" stroke="#8c8c8c" stroke-width="1"/>
<rect x="226.1" y="608.7" width="2.4" height="6.3" fill="#9b9b9b"/>
<rect x="235.5" y="608.7" width="2.4" height="6.3" fill="#9b9b9b"/>
<rect x="227" y="608" width="10" height="1.8" fill="#9b9b9b"/>
<rect x="226.1" y="612" width="11.8" height="1.4" fill="#9b9b9b"/>
<rect x="261" y="608.7" width="2.4" height="6.3" fill="#9b9b9b"/>
<rect x="270.5" y="608.7" width="2.4" height="6.3" fill="#9b9b9b"/>
<rect x="261.9" y="608" width="10.1" height="1.8" fill="#9b9b9b"/>
<rect x="261" y="612" width="11.9" height="1.4" fill="#9b9b9b"/>
<rect x="283.3" y="608.7" width="2.4" height="6.3" fill="#9b9b9b"/>
<rect x="292.3" y="608.7" width="2.4" height="6.3" fill="#9b9b9b"/>
<rect x="284.2" y="608" width="9.6" height="1.8" fill="#9b9b9b"/>
<rect x="283.3" y="612" width="11.4" height="1.4" fill="#9b9b9b"/>
<text x="177.7" y="616.6" fill="#9b9b9b" font-size="12.5" font-family="Liberation Mono, sans-serif" text-anchor="start" font-weight="bold" textLength="38.5" lengthAdjust="spacingAndGlyphs" transform="rotate(-90 177.7 616.6)">X_OUT</text>
<text x="194.8" y="625" fill="#9b9b9b" font-size="10.5" font-family="Liberation Mono, sans-serif" text-anchor="start" font-weight="bold" transform="rotate(-90 194.8 625)">1</text>
<text x="484.1" y="615.9" fill="#9b9b9b" font-size="12.5" font-family="Liberation Mono, sans-serif" text-anchor="start" font-weight="bold" textLength="28" lengthAdjust="spacingAndGlyphs" transform="rotate(-90 484.1 615.9)">X_IN</text>
<text x="501.9" y="625" fill="#9b9b9b" font-size="10.5" font-family="Liberation Mono, sans-serif" text-anchor="start" font-weight="bold" transform="rotate(-90 501.9 625)">1</text>
<rect x="202.9" y="623.4" width="2.7" height="6.2" fill="#9b9b9b"/>
<rect x="211.6" y="623.4" width="2.7" height="6.2" fill="#9b9b9b"/>
<rect x="202.9" y="623.7" width="11.4" height="1.2" fill="#9b9b9b"/>
<rect x="202.9" y="628.1" width="11.4" height="1.2" fill="#9b9b9b"/>
<rect x="202.9" y="634.3" width="2.7" height="6.2" fill="#9b9b9b"/>
<rect x="211.6" y="634.3" width="2.7" height="6.2" fill="#9b9b9b"/>
<rect x="202.9" y="634.6" width="11.4" height="1.2" fill="#9b9b9b"/>
<rect x="202.9" y="639" width="11.4" height="1.2" fill="#9b9b9b"/>
<rect x="202.9" y="643.8" width="2.7" height="6.2" fill="#9b9b9b"/>
<rect x="211.6" y="643.8" width="2.7" height="6.2" fill="#9b9b9b"/>
<rect x="202.9" y="644.1" width="11.4" height="1.2" fill="#9b9b9b"/>
<rect x="202.9" y="648.5" width="11.4" height="1.2" fill="#9b9b9b"/>
<rect x="202.9" y="655" width="2.7" height="6.2" fill="#9b9b9b"/>
<rect x="211.6" y="655" width="2.7" height="6.2" fill="#9b9b9b"/>
<rect x="202.9" y="655.3" width="11.4" height="1.2" fill="#9b9b9b"/>
<rect x="202.9" y="659.7" width="11.4" height="1.2" fill="#9b9b9b"/>
<rect x="221.5" y="631.8" width="71.3" height="36.4" fill="none" stroke="#9b9b9b" stroke-width="1.6"/>
<rect x="227.1" y="623.2" width="2.8" height="8.6" fill="#9b9b9b"/>
<rect x="227.1" y="668.2" width="2.8" height="9.6" fill="#9b9b9b"/>
<rect x="231.57" y="623.2" width="2.8" height="8.6" fill="#9b9b9b"/>
<rect x="231.57" y="668.2" width="2.8" height="9.6" fill="#9b9b9b"/>
<rect x="236.04" y="623.2" width="2.8" height="8.6" fill="#9b9b9b"/>
<rect x="236.04" y="668.2" width="2.8" height="9.6" fill="#9b9b9b"/>
<rect x="240.51" y="623.2" width="2.8" height="8.6" fill="#9b9b9b"/>
<rect x="240.51" y="668.2" width="2.8" height="9.6" fill="#9b9b9b"/>
<rect x="244.98" y="623.2" width="2.8" height="8.6" fill="#9b9b9b"/>
<rect x="244.98" y="668.2" width="2.8" height="9.6" fill="#9b9b9b"/>
<rect x="249.45" y="623.2" width="2.8" height="8.6" fill="#9b9b9b"/>
<rect x="249.45" y="668.2" width="2.8" height="9.6" fill="#9b9b9b"/>
<rect x="253.92" y="623.2" width="2.8" height="8.6" fill="#9b9b9b"/>
<rect x="253.92" y="668.2" width="2.8" height="9.6" fill="#9b9b9b"/>
<rect x="258.39" y="623.2" width="2.8" height="8.6" fill="#9b9b9b"/>
<rect x="258.39" y="668.2" width="2.8" height="9.6" fill="#9b9b9b"/>
<rect x="262.86" y="623.2" width="2.8" height="8.6" fill="#9b9b9b"/>
<rect x="262.86" y="668.2" width="2.8" height="9.6" fill="#9b9b9b"/>
<rect x="267.33" y="623.2" width="2.8" height="8.6" fill="#9b9b9b"/>
<rect x="267.33" y="668.2" width="2.8" height="9.6" fill="#9b9b9b"/>
<rect x="271.8" y="623.2" width="2.8" height="8.6" fill="#9b9b9b"/>
<rect x="271.8" y="668.2" width="2.8" height="9.6" fill="#9b9b9b"/>
<rect x="276.27" y="623.2" width="2.8" height="8.6" fill="#9b9b9b"/>
<rect x="276.27" y="668.2" width="2.8" height="9.6" fill="#9b9b9b"/>
<rect x="280.74" y="623.2" width="2.8" height="8.6" fill="#9b9b9b"/>
<rect x="280.74" y="668.2" width="2.8" height="9.6" fill="#9b9b9b"/>
<rect x="285.21" y="623.2" width="2.8" height="8.6" fill="#9b9b9b"/>
<rect x="285.21" y="668.2" width="2.8" height="9.6" fill="#9b9b9b"/>
<circle cx="286.4" cy="639.6" r="3.2" fill="#9b9b9b"/>
<rect x="303.2" y="612" width="81.9" height="107.4" fill="none" stroke="#939393" stroke-width="2"/>
<text x="317.6" y="659.5" font-family="Liberation Sans, sans-serif" font-weight="bold" font-size="19.4" fill="#fff" stroke="#9b9b9b" stroke-width="1" textLength="57" lengthAdjust="spacingAndGlyphs">BERG</text>
<line x1="317" y1="663.4" x2="372" y2="663.4" stroke="#9b9b9b" stroke-width="2" />
<rect x="369.3" y="536.6" width="20.7" height="70.4" fill="none" stroke="#9b9b9b" stroke-width="1.5" rx="2.5"/>
<line x1="380.4" y1="555" x2="380.4" y2="568" stroke="#9b9b9b" stroke-width="1.5" />
<rect x="373.3" y="567.9" width="14.6" height="2.8" fill="#9b9b9b"/>
<rect x="373.3" y="575" width="14.6" height="2.9" fill="#9b9b9b"/>
<line x1="380.4" y1="577.9" x2="380.4" y2="591.4" stroke="#9b9b9b" stroke-width="1.5" />
<rect x="393.1" y="533.9" width="42.2" height="80" fill="none" stroke="#9b9b9b" stroke-width="1.5"/>
<text x="402.7" y="572.2" fill="#9b9b9b" font-size="9.8" font-family="Liberation Mono, sans-serif" text-anchor="start" textLength="31.5" lengthAdjust="spacingAndGlyphs" transform="rotate(-90 402.7 572.2)">DC-DC</text>
<rect x="440" y="551.4" width="6.7" height="2.4" fill="#9b9b9b"/>
<rect x="440" y="560" width="6.7" height="2.4" fill="#9b9b9b"/>
<rect x="441.3" y="551.4" width="1.1" height="11" fill="#9b9b9b"/>
<rect x="444.3" y="551.4" width="1.1" height="11" fill="#9b9b9b"/>
<rect x="440" y="590.3" width="6.7" height="2.4" fill="#9b9b9b"/>
<rect x="440" y="598" width="6.7" height="2.4" fill="#9b9b9b"/>
<rect x="441.3" y="590.3" width="1.1" height="10.1" fill="#9b9b9b"/>
<rect x="444.3" y="590.3" width="1.1" height="10.1" fill="#9b9b9b"/>
<rect x="452.1" y="550.7" width="11.1" height="22" fill="none" stroke="#9b9b9b" stroke-width="1.4"/>
<rect x="451.4" y="550" width="12.5" height="4.2" fill="#9b9b9b"/>
<rect x="451.4" y="569.2" width="12.5" height="4.2" fill="#9b9b9b"/>
<rect x="452.1" y="590" width="11.1" height="21.9" fill="none" stroke="#9b9b9b" stroke-width="1.4"/>
<rect x="451.4" y="589.3" width="12.5" height="4.2" fill="#9b9b9b"/>
<rect x="451.4" y="608.4" width="12.5" height="4.2" fill="#9b9b9b"/>
<rect x="390.8" y="621.8" width="7" height="2.7" fill="#9b9b9b"/>
<rect x="390.8" y="629.5" width="7" height="2.7" fill="#9b9b9b"/>
<rect x="391.1" y="621.8" width="1.2" height="10.4" fill="#9b9b9b"/>
<rect x="396.3" y="621.8" width="1.2" height="10.4" fill="#9b9b9b"/>
<rect x="403.5" y="620.5" width="34" height="69" fill="none" stroke="#8c8c8c" stroke-width="1"/>
<rect x="450.4" y="627.1" width="31.3" height="27.5" fill="#fff" stroke="#9b9b9b" stroke-width="1.2"/>
<rect x="446.2" y="632.3" width="4.2" height="17.5" fill="#9b9b9b"/>
<rect x="481.7" y="632.3" width="4.1" height="17.5" fill="#9b9b9b"/>
<rect x="471.1" y="627.1" width="4.4" height="27.5" fill="#9b9b9b"/>
<path d="M471.7 640.85 L463.5 633.25 L463.5 648.45 Z" fill="none" stroke="#9b9b9b" stroke-width="1.5"/>
<rect x="446" y="661.6" width="22.9" height="12" fill="none" stroke="#9b9b9b" stroke-width="1.4"/>
<rect x="445.3" y="660.9" width="4" height="13.4" fill="#9b9b9b"/>
<rect x="465.6" y="660.9" width="4" height="13.4" fill="#9b9b9b"/>
<rect x="390.6" y="670.8" width="7.1" height="2.7" fill="#9b9b9b"/>
<rect x="390.6" y="678.3" width="7.1" height="2.7" fill="#9b9b9b"/>
<rect x="390.9" y="670.8" width="1.2" height="10.2" fill="#9b9b9b"/>
<rect x="396.2" y="670.8" width="1.2" height="10.2" fill="#9b9b9b"/>
<rect x="447" y="684.4" width="2.7" height="5" fill="#9b9b9b"/>
<rect x="455.2" y="684.4" width="2.7" height="5" fill="#9b9b9b"/>
<rect x="447" y="684.7" width="10.9" height="1.2" fill="#9b9b9b"/>
<rect x="447" y="687.9" width="10.9" height="1.2" fill="#9b9b9b"/>
<rect x="245" y="684" width="2.7" height="7" fill="#9b9b9b"/>
<rect x="254.2" y="684" width="2.7" height="7" fill="#9b9b9b"/>
<rect x="245" y="684.3" width="11.9" height="1.2" fill="#9b9b9b"/>
<rect x="245" y="689.5" width="11.9" height="1.2" fill="#9b9b9b"/>
<rect x="267.1" y="682.1" width="5" height="10.8" fill="#9b9b9b"/>
<rect x="277.9" y="682.1" width="5" height="10.8" fill="#9b9b9b"/>
<rect x="272.1" y="683" width="5.8" height="1" fill="#9b9b9b"/>
<rect x="272.1" y="691" width="5.8" height="1" fill="#9b9b9b"/>
<rect x="273.8" y="685.2" width="2.4" height="1.8" fill="#9b9b9b"/>
<rect x="273.8" y="688.2" width="2.4" height="1.8" fill="#9b9b9b"/>
<rect x="291.1" y="676.1" width="6.8" height="2.7" fill="#9b9b9b"/>
<rect x="291.1" y="684.9" width="6.8" height="2.7" fill="#9b9b9b"/>
<rect x="291.4" y="676.1" width="1.2" height="11.5" fill="#9b9b9b"/>
<rect x="296.4" y="676.1" width="1.2" height="11.5" fill="#9b9b9b"/>
</g>
<circle cx="187.6" cy="187" r="16.8" fill="none" stroke="#9b9b9b" stroke-width="1.5"/>
<circle cx="187.6" cy="187" r="9.8" fill="none" stroke="#363636" stroke-width="1.4"/>
<circle cx="501.4" cy="187" r="16.8" fill="none" stroke="#9b9b9b" stroke-width="1.5"/>
<circle cx="501.4" cy="187" r="9.8" fill="none" stroke="#363636" stroke-width="1.4"/>
<circle cx="187.6" cy="679.3" r="16.8" fill="none" stroke="#9b9b9b" stroke-width="1.5"/>
<circle cx="187.6" cy="679.3" r="9.8" fill="none" stroke="#363636" stroke-width="1.4"/>
<circle cx="501.4" cy="679.3" r="16.8" fill="none" stroke="#9b9b9b" stroke-width="1.5"/>
<circle cx="501.4" cy="679.3" r="9.8" fill="none" stroke="#363636" stroke-width="1.4"/>
<g id="pads">
<polygon points="255.9,183.18 251.68,187.4 245.72,187.4 241.5,183.18 241.5,177.22 245.72,173 251.68,173 255.9,177.22" fill="#47a447"/>
<circle cx="248.7" cy="180.2" r="2.5" fill="#aaa0aa"/>
<polygon points="273.41,183.18 269.19,187.4 263.23,187.4 259.01,183.18 259.01,177.22 263.23,173 269.19,173 273.41,177.22" fill="#47a447"/>
<circle cx="266.21" cy="180.2" r="2.5" fill="#aaa0aa"/>
<polygon points="290.92,183.18 286.7,187.4 280.74,187.4 276.52,183.18 276.52,177.22 280.74,173 286.7,173 290.92,177.22" fill="#47a447"/>
<circle cx="283.72" cy="180.2" r="2.5" fill="#aaa0aa"/>
<polygon points="308.43,183.18 304.21,187.4 298.25,187.4 294.03,183.18 294.03,177.22 298.25,173 304.21,173 308.43,177.22" fill="#47a447"/>
<circle cx="301.23" cy="180.2" r="2.5" fill="#aaa0aa"/>
<polygon points="325.94,183.18 321.72,187.4 315.76,187.4 311.54,183.18 311.54,177.22 315.76,173 321.72,173 325.94,177.22" fill="#47a447"/>
<circle cx="318.74" cy="180.2" r="2.5" fill="#aaa0aa"/>
<polygon points="343.45,183.18 339.23,187.4 333.27,187.4 329.05,183.18 329.05,177.22 333.27,173 339.23,173 343.45,177.22" fill="#47a447"/>
<circle cx="336.25" cy="180.2" r="2.5" fill="#aaa0aa"/>
<polygon points="360.96,183.18 356.74,187.4 350.78,187.4 346.56,183.18 346.56,177.22 350.78,173 356.74,173 360.96,177.22" fill="#47a447"/>
<circle cx="353.76" cy="180.2" r="2.5" fill="#aaa0aa"/>
<polygon points="378.47,183.18 374.25,187.4 368.29,187.4 364.07,183.18 364.07,177.22 368.29,173 374.25,173 378.47,177.22" fill="#47a447"/>
<circle cx="371.27" cy="180.2" r="2.5" fill="#aaa0aa"/>
<polygon points="395.98,183.18 391.76,187.4 385.8,187.4 381.58,183.18 381.58,177.22 385.8,173 391.76,173 395.98,177.22" fill="#47a447"/>
<circle cx="388.78" cy="180.2" r="2.5" fill="#aaa0aa"/>
<polygon points="413.49,183.18 409.27,187.4 403.31,187.4 399.09,183.18 399.09,177.22 403.31,173 409.27,173 413.49,177.22" fill="#47a447"/>
<circle cx="406.29" cy="180.2" r="2.5" fill="#aaa0aa"/>
<polygon points="431,183.18 426.78,187.4 420.82,187.4 416.6,183.18 416.6,177.22 420.82,173 426.78,173 431,177.22" fill="#47a447"/>
<circle cx="423.8" cy="180.2" r="2.5" fill="#aaa0aa"/>
<polygon points="448.51,183.18 444.29,187.4 438.33,187.4 434.11,183.18 434.11,177.22 438.33,173 444.29,173 448.51,177.22" fill="#47a447"/>
<circle cx="441.31" cy="180.2" r="2.5" fill="#aaa0aa"/>
<circle cx="226.6" cy="204.2" r="6.03" fill="none" stroke="#47a447" stroke-width="4.65"/>
<circle cx="252.87" cy="204.2" r="6.03" fill="none" stroke="#47a447" stroke-width="4.65"/>
<circle cx="279.14" cy="204.2" r="6.03" fill="none" stroke="#47a447" stroke-width="4.65"/>
<circle cx="305.41" cy="204.2" r="6.03" fill="none" stroke="#47a447" stroke-width="4.65"/>
<circle cx="331.68" cy="204.2" r="6.03" fill="none" stroke="#47a447" stroke-width="4.65"/>
<circle cx="357.95" cy="204.2" r="6.03" fill="none" stroke="#47a447" stroke-width="4.65"/>
<circle cx="384.22" cy="204.2" r="6.03" fill="none" stroke="#47a447" stroke-width="4.65"/>
<circle cx="410.49" cy="204.2" r="6.03" fill="none" stroke="#47a447" stroke-width="4.65"/>
<circle cx="436.76" cy="204.2" r="6.03" fill="none" stroke="#47a447" stroke-width="4.65"/>
<circle cx="463.03" cy="204.2" r="6.03" fill="none" stroke="#47a447" stroke-width="4.65"/>
<polygon points="198.2,417.44 194.04,421.6 188.16,421.6 184,417.44 184,411.56 188.16,407.4 194.04,407.4 198.2,411.56" fill="#47a447"/>
<circle cx="191.1" cy="414.5" r="2.5" fill="#aaa0aa"/>
<polygon points="504.5,417.44 500.34,421.6 494.46,421.6 490.3,417.44 490.3,411.56 494.46,407.4 500.34,407.4 504.5,411.56" fill="#47a447"/>
<circle cx="497.4" cy="414.5" r="2.5" fill="#aaa0aa"/>
<polygon points="198.2,434.96 194.04,439.12 188.16,439.12 184,434.96 184,429.08 188.16,424.92 194.04,424.92 198.2,429.08" fill="#47a447"/>
<circle cx="191.1" cy="432.02" r="2.5" fill="#aaa0aa"/>
<polygon points="504.5,434.96 500.34,439.12 494.46,439.12 490.3,434.96 490.3,429.08 494.46,424.92 500.34,424.92 504.5,429.08" fill="#47a447"/>
<circle cx="497.4" cy="432.02" r="2.5" fill="#aaa0aa"/>
<polygon points="198.2,452.48 194.04,456.64 188.16,456.64 184,452.48 184,446.6 188.16,442.44 194.04,442.44 198.2,446.6" fill="#47a447"/>
<circle cx="191.1" cy="449.54" r="2.5" fill="#aaa0aa"/>
<polygon points="504.5,452.48 500.34,456.64 494.46,456.64 490.3,452.48 490.3,446.6 494.46,442.44 500.34,442.44 504.5,446.6" fill="#47a447"/>
<circle cx="497.4" cy="449.54" r="2.5" fill="#aaa0aa"/>
<polygon points="198.2,470 194.04,474.16 188.16,474.16 184,470 184,464.12 188.16,459.96 194.04,459.96 198.2,464.12" fill="#47a447"/>
<circle cx="191.1" cy="467.06" r="2.5" fill="#aaa0aa"/>
<polygon points="504.5,470 500.34,474.16 494.46,474.16 490.3,470 490.3,464.12 494.46,459.96 500.34,459.96 504.5,464.12" fill="#47a447"/>
<circle cx="497.4" cy="467.06" r="2.5" fill="#aaa0aa"/>
<polygon points="198.2,487.52 194.04,491.68 188.16,491.68 184,487.52 184,481.64 188.16,477.48 194.04,477.48 198.2,481.64" fill="#47a447"/>
<circle cx="191.1" cy="484.58" r="2.5" fill="#aaa0aa"/>
<polygon points="504.5,487.52 500.34,491.68 494.46,491.68 490.3,487.52 490.3,481.64 494.46,477.48 500.34,477.48 504.5,481.64" fill="#47a447"/>
<circle cx="497.4" cy="484.58" r="2.5" fill="#aaa0aa"/>
<polygon points="198.2,505.04 194.04,509.2 188.16,509.2 184,505.04 184,499.16 188.16,495 194.04,495 198.2,499.16" fill="#47a447"/>
<circle cx="191.1" cy="502.1" r="2.5" fill="#aaa0aa"/>
<polygon points="504.5,505.04 500.34,509.2 494.46,509.2 490.3,505.04 490.3,499.16 494.46,495 500.34,495 504.5,499.16" fill="#47a447"/>
<circle cx="497.4" cy="502.1" r="2.5" fill="#aaa0aa"/>
<polygon points="198.2,522.56 194.04,526.72 188.16,526.72 184,522.56 184,516.68 188.16,512.52 194.04,512.52 198.2,516.68" fill="#47a447"/>
<circle cx="191.1" cy="519.62" r="2.5" fill="#aaa0aa"/>
<polygon points="504.5,522.56 500.34,526.72 494.46,526.72 490.3,522.56 490.3,516.68 494.46,512.52 500.34,512.52 504.5,516.68" fill="#47a447"/>
<circle cx="497.4" cy="519.62" r="2.5" fill="#aaa0aa"/>
<polygon points="198.2,540.08 194.04,544.24 188.16,544.24 184,540.08 184,534.2 188.16,530.04 194.04,530.04 198.2,534.2" fill="#47a447"/>
<circle cx="191.1" cy="537.14" r="2.5" fill="#aaa0aa"/>
<polygon points="504.5,540.08 500.34,544.24 494.46,544.24 490.3,540.08 490.3,534.2 494.46,530.04 500.34,530.04 504.5,534.2" fill="#47a447"/>
<circle cx="497.4" cy="537.14" r="2.5" fill="#aaa0aa"/>
<polygon points="198.2,557.6 194.04,561.76 188.16,561.76 184,557.6 184,551.72 188.16,547.56 194.04,547.56 198.2,551.72" fill="#47a447"/>
<circle cx="191.1" cy="554.66" r="2.5" fill="#aaa0aa"/>
<polygon points="504.5,557.6 500.34,561.76 494.46,561.76 490.3,557.6 490.3,551.72 494.46,547.56 500.34,547.56 504.5,551.72" fill="#47a447"/>
<circle cx="497.4" cy="554.66" r="2.5" fill="#aaa0aa"/>
<polygon points="198.2,575.12 194.04,579.28 188.16,579.28 184,575.12 184,569.24 188.16,565.08 194.04,565.08 198.2,569.24" fill="#47a447"/>
<circle cx="191.1" cy="572.18" r="2.5" fill="#aaa0aa"/>
<polygon points="504.5,575.12 500.34,579.28 494.46,579.28 490.3,575.12 490.3,569.24 494.46,565.08 500.34,565.08 504.5,569.24" fill="#47a447"/>
<circle cx="497.4" cy="572.18" r="2.5" fill="#aaa0aa"/>
<polygon points="198.2,592.64 194.04,596.8 188.16,596.8 184,592.64 184,586.76 188.16,582.6 194.04,582.6 198.2,586.76" fill="#47a447"/>
<circle cx="191.1" cy="589.7" r="2.5" fill="#aaa0aa"/>
<polygon points="504.5,592.64 500.34,596.8 494.46,596.8 490.3,592.64 490.3,586.76 494.46,582.6 500.34,582.6 504.5,586.76" fill="#47a447"/>
<circle cx="497.4" cy="589.7" r="2.5" fill="#aaa0aa"/>
<polygon points="198.2,610.16 194.04,614.32 188.16,614.32 184,610.16 184,604.28 188.16,600.12 194.04,600.12 198.2,604.28" fill="#47a447"/>
<circle cx="191.1" cy="607.22" r="2.5" fill="#aaa0aa"/>
<polygon points="504.5,610.16 500.34,614.32 494.46,614.32 490.3,610.16 490.3,604.28 494.46,600.12 500.34,600.12 504.5,604.28" fill="#47a447"/>
<circle cx="497.4" cy="607.22" r="2.5" fill="#aaa0aa"/>
<circle cx="227.4" cy="546.4" r="4.3" fill="none" stroke="#47a447" stroke-width="2.6"/>
<circle cx="244.8" cy="546.4" r="4.3" fill="none" stroke="#47a447" stroke-width="2.6"/>
<circle cx="262.3" cy="546.4" r="4.3" fill="none" stroke="#47a447" stroke-width="2.6"/>
<circle cx="279.7" cy="546.4" r="4.3" fill="none" stroke="#47a447" stroke-width="2.6"/>
<circle cx="305.4" cy="546.4" r="4.3" fill="none" stroke="#47a447" stroke-width="2.6"/>
<circle cx="322.8" cy="546.4" r="4.3" fill="none" stroke="#47a447" stroke-width="2.6"/>
<circle cx="340.2" cy="546.4" r="4.3" fill="none" stroke="#47a447" stroke-width="2.6"/>
<circle cx="357.6" cy="546.4" r="4.3" fill="none" stroke="#47a447" stroke-width="2.6"/>
<circle cx="227.4" cy="599.6" r="4.3" fill="none" stroke="#47a447" stroke-width="2.6"/>
<circle cx="244.8" cy="599.6" r="4.3" fill="none" stroke="#47a447" stroke-width="2.6"/>
<circle cx="262.3" cy="599.6" r="4.3" fill="none" stroke="#47a447" stroke-width="2.6"/>
<circle cx="279.7" cy="599.6" r="4.3" fill="none" stroke="#47a447" stroke-width="2.6"/>
<circle cx="305.4" cy="599.6" r="4.3" fill="none" stroke="#47a447" stroke-width="2.6"/>
<circle cx="322.8" cy="599.6" r="4.3" fill="none" stroke="#47a447" stroke-width="2.6"/>
<circle cx="340.2" cy="599.6" r="4.3" fill="none" stroke="#47a447" stroke-width="2.6"/>
<circle cx="357.6" cy="599.6" r="4.3" fill="none" stroke="#47a447" stroke-width="2.6"/>
<rect x="418.6" y="543.3" width="18.1" height="9.6" rx="4.8" fill="#47a447"/>
<circle cx="427.6" cy="548.1" r="3" fill="#fff"/>
<rect x="418.6" y="560.6" width="18.1" height="9.6" rx="4.8" fill="#47a447"/>
<circle cx="427.6" cy="565.4" r="3" fill="#fff"/>
<rect x="418.6" y="578.5" width="18.1" height="9.6" rx="4.8" fill="#47a447"/>
<circle cx="427.6" cy="583.3" r="3" fill="#fff"/>
<rect x="418.6" y="595.5" width="18.1" height="9.6" rx="4.8" fill="#47a447"/>
<circle cx="427.6" cy="600.3" r="3" fill="#fff"/>
<circle cx="427.6" cy="609.6" r="1.7" fill="none" stroke="#9b9b9b" stroke-width="1.3"/>
<circle cx="335.6" cy="618.6" r="3.95" fill="none" stroke="#47a447" stroke-width="3.1"/>
<circle cx="353.4" cy="618.6" r="3.95" fill="none" stroke="#47a447" stroke-width="3.1"/>
<circle cx="335.6" cy="631" r="3.95" fill="none" stroke="#47a447" stroke-width="3.1"/>
<circle cx="353.4" cy="631" r="3.95" fill="none" stroke="#47a447" stroke-width="3.1"/>
<circle cx="380.4" cy="546.4" r="4.05" fill="none" stroke="#47a447" stroke-width="2.9"/>
<circle cx="380.4" cy="598.6" r="4.05" fill="none" stroke="#47a447" stroke-width="2.9"/>
<circle cx="302.9" cy="650.2" r="9.05" fill="none" stroke="#47a447" stroke-width="3.9"/>
<circle cx="385.1" cy="650.2" r="9.05" fill="none" stroke="#47a447" stroke-width="3.9"/>
</g>
<line x1="213.5" y1="151" x2="213.5" y2="205" stroke="#8c8c8c" stroke-width="1" />
<line x1="239.5" y1="151" x2="239.5" y2="205" stroke="#8c8c8c" stroke-width="1" />
<line x1="266.5" y1="151" x2="266.5" y2="205" stroke="#8c8c8c" stroke-width="1" />
<line x1="292.5" y1="151" x2="292.5" y2="205" stroke="#8c8c8c" stroke-width="1" />
<line x1="318.5" y1="151" x2="318.5" y2="205" stroke="#8c8c8c" stroke-width="1" />
<line x1="344.5" y1="151" x2="344.5" y2="205" stroke="#8c8c8c" stroke-width="1" />
<line x1="371.5" y1="151" x2="371.5" y2="205" stroke="#8c8c8c" stroke-width="1" />
<line x1="397.5" y1="151" x2="397.5" y2="205" stroke="#8c8c8c" stroke-width="1" />
<line x1="423.5" y1="151" x2="423.5" y2="205" stroke="#8c8c8c" stroke-width="1" />
<line x1="449.5" y1="151" x2="449.5" y2="205" stroke="#8c8c8c" stroke-width="1" />
<line x1="476.5" y1="151" x2="476.5" y2="205" stroke="#8c8c8c" stroke-width="1" />
<line x1="226.6" y1="204.2" x2="266.21" y2="180.2" stroke="#ff2a2a" stroke-width="1.7" />
<line x1="252.87" y1="204.2" x2="283.72" y2="180.2" stroke="#ff2a2a" stroke-width="1.7" />
<line x1="279.14" y1="204.2" x2="301.23" y2="180.2" stroke="#ff2a2a" stroke-width="1.7" />
<line x1="305.41" y1="204.2" x2="318.74" y2="180.2" stroke="#ff2a2a" stroke-width="1.7" />
<line x1="331.68" y1="204.2" x2="336.25" y2="180.2" stroke="#ff2a2a" stroke-width="1.7" />
<line x1="357.95" y1="204.2" x2="353.76" y2="180.2" stroke="#ff2a2a" stroke-width="1.7" />
<line x1="384.22" y1="204.2" x2="371.27" y2="180.2" stroke="#ff2a2a" stroke-width="1.7" />
<line x1="410.49" y1="204.2" x2="388.78" y2="180.2" stroke="#ff2a2a" stroke-width="1.7" />
<line x1="436.76" y1="204.2" x2="406.29" y2="180.2" stroke="#ff2a2a" stroke-width="1.7" />
<line x1="463.03" y1="204.2" x2="423.8" y2="180.2" stroke="#ff2a2a" stroke-width="1.7" />
<rect x="239.5" y="171.4" width="210.5" height="16.9" fill="none" stroke="#9b9b9b" stroke-width="2.6"/>
<rect x="170.1" y="158.95" width="347.95" height="548.05" fill="none" stroke="#363636" stroke-width="1.9"/>
<line x1="170.5" y1="17.6" x2="170.5" y2="159" stroke="#8c8c8c" stroke-width="1" />
<line x1="518.5" y1="17.9" x2="518.5" y2="159" stroke="#8c8c8c" stroke-width="1" />
<line x1="344.5" y1="38" x2="344.5" y2="180.4" stroke="#8c8c8c" stroke-width="1" />
<line x1="345" y1="180.5" x2="539" y2="180.5" stroke="#8c8c8c" stroke-width="1" />
<line x1="518" y1="159.5" x2="539" y2="159.5" stroke="#8c8c8c" stroke-width="1" />
<line x1="56" y1="159.5" x2="170" y2="159.5" stroke="#8c8c8c" stroke-width="1" />
<line x1="56" y1="707.5" x2="170" y2="707.5" stroke="#8c8c8c" stroke-width="1" />
<line x1="149.3" y1="187.5" x2="187.5" y2="187.5" stroke="#8c8c8c" stroke-width="1" />
<line x1="187.5" y1="138.3" x2="187.5" y2="187" stroke="#8c8c8c" stroke-width="1" />
<line x1="178.5" y1="187" x2="178.5" y2="213" stroke="#8c8c8c" stroke-width="1" />
<line x1="197.5" y1="187" x2="197.5" y2="218.6" stroke="#8c8c8c" stroke-width="1" />
<line x1="160" y1="511.5" x2="635.7" y2="511.5" stroke="#8c8c8c" stroke-width="1" />
<line x1="497.5" y1="414.5" x2="677" y2="414.5" stroke="#8c8c8c" stroke-width="1" />
<line x1="497.5" y1="607.5" x2="680" y2="607.5" stroke="#8c8c8c" stroke-width="1" />
<line x1="497.5" y1="607" x2="497.5" y2="748.6" stroke="#8c8c8c" stroke-width="1" />
<line x1="497.5" y1="414.5" x2="497.5" y2="514" stroke="#8c8c8c" stroke-width="1" />
<line x1="518.5" y1="707" x2="518.5" y2="748.6" stroke="#8c8c8c" stroke-width="1" />
<line x1="518" y1="707.5" x2="636" y2="707.5" stroke="#8c8c8c" stroke-width="1" />
<line x1="139.3" y1="631.5" x2="363" y2="631.5" stroke="#8c8c8c" stroke-width="1" />
<line x1="335.6" y1="618.5" x2="363" y2="618.5" stroke="#8c8c8c" stroke-width="1" />
<line x1="353.5" y1="618.6" x2="353.5" y2="672.3" stroke="#8c8c8c" stroke-width="1" />
<line x1="170.5" y1="707" x2="170.5" y2="751" stroke="#8c8c8c" stroke-width="1" />
<line x1="335.5" y1="618.6" x2="335.5" y2="751" stroke="#8c8c8c" stroke-width="1" />
<line x1="169.4" y1="25" x2="518.6" y2="25" stroke="#3434ff" stroke-width="2" />
<g transform="translate(331.8 18.4)" fill="#3434ff" font-size="11" font-family="Liberation Mono, monospace"><text x="-0.5" y="0" textLength="23.4" lengthAdjust="spacingAndGlyphs">50.5</text><text x="28.9" y="0" textLength="13.4" lengthAdjust="spacingAndGlyphs">mm</text></g>
<line x1="169.4" y1="47" x2="344.8" y2="47" stroke="#3434ff" stroke-width="2" />
<g transform="translate(236 43)" fill="#3434ff" font-size="11" font-family="Liberation Mono, monospace"><text x="-0.5" y="0" textLength="28.2" lengthAdjust="spacingAndGlyphs">25.25</text><text x="33.7" y="0" textLength="13.4" lengthAdjust="spacingAndGlyphs">mm</text></g>
<line x1="63" y1="159.5" x2="63" y2="707.2" stroke="#3434ff" stroke-width="2" />
<g transform="translate(54.3 460) rotate(-90)" fill="#3434ff" font-size="11" font-family="Liberation Mono, monospace"><text x="-0.5" y="0" textLength="23.1" lengthAdjust="spacingAndGlyphs">79.5</text><text x="28.6" y="0" textLength="13.4" lengthAdjust="spacingAndGlyphs">mm</text></g>
<line x1="169.5" y1="144.9" x2="187.7" y2="144.9" stroke="#3434ff" stroke-width="2" />
<g transform="translate(166.9 139.3)" fill="#3434ff" font-size="11" font-family="Liberation Mono, monospace"><text x="-0.5" y="0" textLength="16.2" lengthAdjust="spacingAndGlyphs">2.5</text><text x="21.5" y="0" textLength="13.1" lengthAdjust="spacingAndGlyphs">mm</text></g>
<line x1="156" y1="159" x2="156" y2="187" stroke="#3434ff" stroke-width="2" />
<g transform="translate(150 187.1) rotate(-90)" fill="#3434ff" font-size="11" font-family="Liberation Mono, monospace"><text x="-0.5" y="0" textLength="16" lengthAdjust="spacingAndGlyphs">4.0</text><text x="22" y="0" textLength="12.7" lengthAdjust="spacingAndGlyphs">mm</text></g>
<line x1="177.6" y1="210.7" x2="197.6" y2="210.7" stroke="#3434ff" stroke-width="2" />
<g transform="translate(177.1 222.1)" fill="#3434ff" font-size="11" font-family="Liberation Mono, monospace"><text x="-0.5" y="0" textLength="16" lengthAdjust="spacingAndGlyphs">2.8</text><text x="22.4" y="0" textLength="12.1" lengthAdjust="spacingAndGlyphs">mm</text></g>
<line x1="532.1" y1="159.4" x2="532.1" y2="180.4" stroke="#3434ff" stroke-width="2" />
<g transform="translate(549.8 183.9) rotate(-90)" fill="#3434ff" font-size="11" font-family="Liberation Mono, monospace"><text x="-0.5" y="0" textLength="16.6" lengthAdjust="spacingAndGlyphs">3,0</text><text x="23.1" y="0" textLength="12.4" lengthAdjust="spacingAndGlyphs">mm</text></g>
<line x1="669" y1="414.3" x2="669" y2="607.3" stroke="#3434ff" stroke-width="2" />
<g transform="translate(687.4 524) rotate(-90)" fill="#3434ff" font-size="11" font-family="Liberation Mono, monospace"><text x="-0.5" y="0" textLength="29.3" lengthAdjust="spacingAndGlyphs">27.94</text><text x="35.6" y="0" textLength="12" lengthAdjust="spacingAndGlyphs">mm</text></g>
<line x1="628.1" y1="511.4" x2="628.1" y2="707" stroke="#3434ff" stroke-width="2" />
<g transform="translate(650.3 631.7) rotate(-90)" fill="#3434ff" font-size="11" font-family="Liberation Mono, monospace"><text x="-0.5" y="0" textLength="22" lengthAdjust="spacingAndGlyphs">28.5</text><text x="28.3" y="0" textLength="13.2" lengthAdjust="spacingAndGlyphs">mm</text></g>
<line x1="149" y1="631.4" x2="149" y2="707" stroke="#3434ff" stroke-width="2" />
<g transform="translate(145.7 694.3) rotate(-90)" fill="#3434ff" font-size="11" font-family="Liberation Mono, monospace"><text x="-0.5" y="0" textLength="22.4" lengthAdjust="spacingAndGlyphs">11.0</text><text x="28.4" y="0" textLength="13.5" lengthAdjust="spacingAndGlyphs">mm</text></g>
<line x1="170.4" y1="742" x2="336.3" y2="742" stroke="#3434ff" stroke-width="2" />
<g transform="translate(233.7 755.3)" fill="#3434ff" font-size="11" font-family="Liberation Mono, monospace"><text x="-0.5" y="0" textLength="22.4" lengthAdjust="spacingAndGlyphs">24.0</text><text x="28.7" y="0" textLength="13.2" lengthAdjust="spacingAndGlyphs">mm</text></g>
<line x1="497" y1="741" x2="518.4" y2="741" stroke="#3434ff" stroke-width="2" />
<g transform="translate(488.6 759.3)" fill="#3434ff" font-size="11" font-family="Liberation Mono, monospace"><text x="-0.5" y="0" textLength="16.7" lengthAdjust="spacingAndGlyphs">3.0</text><text x="22" y="0" textLength="13" lengthAdjust="spacingAndGlyphs">mm</text></g>
<line x1="334" y1="667.1" x2="353" y2="667.1" stroke="#3434ff" stroke-width="2" />
<g transform="translate(327 681.2)" fill="#3434ff" font-size="11" font-family="Liberation Mono, monospace"><text x="-0.5" y="0" textLength="22.2" lengthAdjust="spacingAndGlyphs">2.50</text><text x="28.5" y="0" textLength="12.2" lengthAdjust="spacingAndGlyphs">mm</text></g>
<line x1="362" y1="618.1" x2="362" y2="632.2" stroke="#3434ff" stroke-width="2" />
<g transform="translate(376.1 635.8) rotate(-90)" fill="#3434ff" font-size="11" font-family="Liberation Mono, monospace"><text x="-0.5" y="0" textLength="23" lengthAdjust="spacingAndGlyphs">2.03</text></g>
<g transform="translate(376 606.7) rotate(-90)" fill="#3434ff" font-size="11" font-family="Liberation Mono, monospace"><text x="-0.5" y="0" textLength="12.7" lengthAdjust="spacingAndGlyphs">mm</text></g>
<g transform="translate(249.1 143.2) rotate(-90)" fill="#ff2a2a" font-size="11" font-family="Liberation Mono, monospace"><text x="-0.5" y="0" textLength="41" lengthAdjust="spacingAndGlyphs">Current</text><text x="46.9" y="0" textLength="37.6" lengthAdjust="spacingAndGlyphs">Source</text></g>
<g transform="translate(266.61 143.2) rotate(-90)" fill="#ff2a2a" font-size="11" font-family="Liberation Mono, monospace"><text x="-0.5" y="0" textLength="19.4" lengthAdjust="spacingAndGlyphs">GND</text></g>
<g transform="translate(284.12 143.2) rotate(-90)" fill="#ff2a2a" font-size="11" font-family="Liberation Mono, monospace"><text x="-0.5" y="0" textLength="19" lengthAdjust="spacingAndGlyphs">ADC</text><text x="25.5" y="0" textLength="25" lengthAdjust="spacingAndGlyphs">Chan</text><text x="57.8" y="0" textLength="6.3" lengthAdjust="spacingAndGlyphs">8</text></g>
<g transform="translate(301.63 143.2) rotate(-90)" fill="#ff2a2a" font-size="11" font-family="Liberation Mono, monospace"><text x="-0.5" y="0" textLength="19" lengthAdjust="spacingAndGlyphs">ADC</text><text x="25.5" y="0" textLength="25" lengthAdjust="spacingAndGlyphs">Chan</text><text x="57.8" y="0" textLength="6.3" lengthAdjust="spacingAndGlyphs">7</text></g>
<g transform="translate(319.14 143.2) rotate(-90)" fill="#ff2a2a" font-size="11" font-family="Liberation Mono, monospace"><text x="-0.5" y="0" textLength="19" lengthAdjust="spacingAndGlyphs">ADC</text><text x="25.5" y="0" textLength="25" lengthAdjust="spacingAndGlyphs">Chan</text><text x="57.8" y="0" textLength="6.3" lengthAdjust="spacingAndGlyphs">6</text></g>
<g transform="translate(336.65 143.2) rotate(-90)" fill="#ff2a2a" font-size="11" font-family="Liberation Mono, monospace"><text x="-0.5" y="0" textLength="19" lengthAdjust="spacingAndGlyphs">ADC</text><text x="25.5" y="0" textLength="25" lengthAdjust="spacingAndGlyphs">Chan</text><text x="57.8" y="0" textLength="6.3" lengthAdjust="spacingAndGlyphs">5</text></g>
<g transform="translate(354.16 143.2) rotate(-90)" fill="#ff2a2a" font-size="11" font-family="Liberation Mono, monospace"><text x="-0.5" y="0" textLength="19" lengthAdjust="spacingAndGlyphs">ADC</text><text x="25.5" y="0" textLength="25" lengthAdjust="spacingAndGlyphs">Chan</text><text x="57.8" y="0" textLength="6.3" lengthAdjust="spacingAndGlyphs">4</text></g>
<g transform="translate(371.67 143.2) rotate(-90)" fill="#ff2a2a" font-size="11" font-family="Liberation Mono, monospace"><text x="-0.5" y="0" textLength="19" lengthAdjust="spacingAndGlyphs">ADC</text><text x="25.5" y="0" textLength="25" lengthAdjust="spacingAndGlyphs">Chan</text><text x="57.8" y="0" textLength="6.3" lengthAdjust="spacingAndGlyphs">3</text></g>
<g transform="translate(389.18 143.2) rotate(-90)" fill="#ff2a2a" font-size="11" font-family="Liberation Mono, monospace"><text x="-0.5" y="0" textLength="19" lengthAdjust="spacingAndGlyphs">ADC</text><text x="25.5" y="0" textLength="25" lengthAdjust="spacingAndGlyphs">Chan</text><text x="57.8" y="0" textLength="6.3" lengthAdjust="spacingAndGlyphs">2</text></g>
<g transform="translate(406.69 143.2) rotate(-90)" fill="#ff2a2a" font-size="11" font-family="Liberation Mono, monospace"><text x="-0.5" y="0" textLength="19" lengthAdjust="spacingAndGlyphs">ADC</text><text x="25.5" y="0" textLength="25" lengthAdjust="spacingAndGlyphs">Chan</text><text x="57.8" y="0" textLength="6.3" lengthAdjust="spacingAndGlyphs">1</text></g>
<g transform="translate(424.2 143.2) rotate(-90)" fill="#ff2a2a" font-size="11" font-family="Liberation Mono, monospace"><text x="-0.5" y="0" textLength="55.3" lengthAdjust="spacingAndGlyphs">Reference</text></g>
<g transform="translate(441.71 143.2) rotate(-90)" fill="#ff2a2a" font-size="11" font-family="Liberation Mono, monospace"><text x="-0.5" y="0" textLength="49.3" lengthAdjust="spacingAndGlyphs">reserved</text></g>
<g transform="translate(0 416.8)" fill="#ff2a2a" font-size="11" font-family="Liberation Mono, monospace"><text x="115.1" y="0" textLength="50.4" lengthAdjust="spacingAndGlyphs">reserved</text></g>
<g transform="translate(0 434.7)" fill="#ff2a2a" font-size="11" font-family="Liberation Mono, monospace"><text x="115.1" y="0" textLength="50.4" lengthAdjust="spacingAndGlyphs">reserved</text></g>
<g transform="translate(0 451.8)" fill="#ff2a2a" font-size="11" font-family="Liberation Mono, monospace"><text x="77.1" y="0" textLength="26.6" lengthAdjust="spacingAndGlyphs">5-35</text><text x="108.3" y="0" textLength="23.7" lengthAdjust="spacingAndGlyphs">Volt</text><text x="137.5" y="0" textLength="28" lengthAdjust="spacingAndGlyphs">Input</text></g>
<g transform="translate(0 470)" fill="#ff2a2a" font-size="11" font-family="Liberation Mono, monospace"><text x="145.2" y="0" textLength="20.3" lengthAdjust="spacingAndGlyphs">GND</text></g>
<g transform="translate(0 487.1)" fill="#ff2a2a" font-size="11" font-family="Liberation Mono, monospace"><text x="75.2" y="0" textLength="36" lengthAdjust="spacingAndGlyphs">digital</text><text x="117.4" y="0" textLength="35.2" lengthAdjust="spacingAndGlyphs">Output</text><text x="158.7" y="0" textLength="6.8" lengthAdjust="spacingAndGlyphs">8</text></g>
<g transform="translate(0 506.8)" fill="#ff2a2a" font-size="11" font-family="Liberation Mono, monospace"><text x="75.2" y="0" textLength="36" lengthAdjust="spacingAndGlyphs">digital</text><text x="117.4" y="0" textLength="35.2" lengthAdjust="spacingAndGlyphs">Output</text><text x="158.7" y="0" textLength="6.8" lengthAdjust="spacingAndGlyphs">7</text></g>
<g transform="translate(0 524)" fill="#ff2a2a" font-size="11" font-family="Liberation Mono, monospace"><text x="75.2" y="0" textLength="36" lengthAdjust="spacingAndGlyphs">digital</text><text x="117.4" y="0" textLength="35.2" lengthAdjust="spacingAndGlyphs">Output</text><text x="158.7" y="0" textLength="6.8" lengthAdjust="spacingAndGlyphs">6</text></g>
<g transform="translate(0 540.8)" fill="#ff2a2a" font-size="11" font-family="Liberation Mono, monospace"><text x="75.2" y="0" textLength="36" lengthAdjust="spacingAndGlyphs">digital</text><text x="117.4" y="0" textLength="35.2" lengthAdjust="spacingAndGlyphs">Output</text><text x="158.7" y="0" textLength="6.8" lengthAdjust="spacingAndGlyphs">5</text></g>
<g transform="translate(0 558)" fill="#ff2a2a" font-size="11" font-family="Liberation Mono, monospace"><text x="75.2" y="0" textLength="36" lengthAdjust="spacingAndGlyphs">digital</text><text x="117.4" y="0" textLength="35.2" lengthAdjust="spacingAndGlyphs">Output</text><text x="158.7" y="0" textLength="6.8" lengthAdjust="spacingAndGlyphs">4</text></g>
<g transform="translate(0 575.1)" fill="#ff2a2a" font-size="11" font-family="Liberation Mono, monospace"><text x="75.2" y="0" textLength="36" lengthAdjust="spacingAndGlyphs">digital</text><text x="117.4" y="0" textLength="35.2" lengthAdjust="spacingAndGlyphs">Output</text><text x="158.7" y="0" textLength="6.8" lengthAdjust="spacingAndGlyphs">3</text></g>
<g transform="translate(0 592.5)" fill="#ff2a2a" font-size="11" font-family="Liberation Mono, monospace"><text x="75.2" y="0" textLength="36" lengthAdjust="spacingAndGlyphs">digital</text><text x="117.4" y="0" textLength="35.2" lengthAdjust="spacingAndGlyphs">Output</text><text x="158.7" y="0" textLength="6.8" lengthAdjust="spacingAndGlyphs">2</text></g>
<g transform="translate(0 609.7)" fill="#ff2a2a" font-size="11" font-family="Liberation Mono, monospace"><text x="75.2" y="0" textLength="36" lengthAdjust="spacingAndGlyphs">digital</text><text x="117.4" y="0" textLength="35.2" lengthAdjust="spacingAndGlyphs">Output</text><text x="158.7" y="0" textLength="6.8" lengthAdjust="spacingAndGlyphs">1</text></g>
<g transform="translate(0 419)" fill="#ff2a2a" font-size="11" font-family="Liberation Mono, monospace"><text x="524.2" y="0" textLength="49.6" lengthAdjust="spacingAndGlyphs">reserved</text></g>
<g transform="translate(0 436.1)" fill="#ff2a2a" font-size="11" font-family="Liberation Mono, monospace"><text x="524.2" y="0" textLength="49.6" lengthAdjust="spacingAndGlyphs">reserved</text></g>
<g transform="translate(0 454)" fill="#ff2a2a" font-size="11" font-family="Liberation Mono, monospace"><text x="524.2" y="0" textLength="49.6" lengthAdjust="spacingAndGlyphs">reserved</text></g>
<g transform="translate(0 471.1)" fill="#ff2a2a" font-size="11" font-family="Liberation Mono, monospace"><text x="524.2" y="0" textLength="19.6" lengthAdjust="spacingAndGlyphs">GND</text></g>
<g transform="translate(0 488.5)" fill="#ff2a2a" font-size="11" font-family="Liberation Mono, monospace"><text x="524.2" y="0" textLength="35.9" lengthAdjust="spacingAndGlyphs">digital</text><text x="567.6" y="0" textLength="26.8" lengthAdjust="spacingAndGlyphs">Input</text><text x="601.4" y="0" textLength="6.3" lengthAdjust="spacingAndGlyphs">8</text></g>
<g transform="translate(0 506.1)" fill="#ff2a2a" font-size="11" font-family="Liberation Mono, monospace"><text x="524.2" y="0" textLength="35.9" lengthAdjust="spacingAndGlyphs">digital</text><text x="567.6" y="0" textLength="26.8" lengthAdjust="spacingAndGlyphs">Input</text><text x="601.4" y="0" textLength="6.3" lengthAdjust="spacingAndGlyphs">7</text></g>
<g transform="translate(0 523.5)" fill="#ff2a2a" font-size="11" font-family="Liberation Mono, monospace"><text x="524.2" y="0" textLength="35.9" lengthAdjust="spacingAndGlyphs">digital</text><text x="567.6" y="0" textLength="26.8" lengthAdjust="spacingAndGlyphs">Input</text><text x="601.4" y="0" textLength="6.3" lengthAdjust="spacingAndGlyphs">6</text></g>
<g transform="translate(0 540.7)" fill="#ff2a2a" font-size="11" font-family="Liberation Mono, monospace"><text x="524.2" y="0" textLength="35.9" lengthAdjust="spacingAndGlyphs">digital</text><text x="567.6" y="0" textLength="26.8" lengthAdjust="spacingAndGlyphs">Input</text><text x="601.4" y="0" textLength="6.3" lengthAdjust="spacingAndGlyphs">5</text></g>
<g transform="translate(0 557.8)" fill="#ff2a2a" font-size="11" font-family="Liberation Mono, monospace"><text x="524.2" y="0" textLength="35.9" lengthAdjust="spacingAndGlyphs">digital</text><text x="567.6" y="0" textLength="26.8" lengthAdjust="spacingAndGlyphs">Input</text><text x="601.4" y="0" textLength="6.3" lengthAdjust="spacingAndGlyphs">4</text></g>
<g transform="translate(0 574.8)" fill="#ff2a2a" font-size="11" font-family="Liberation Mono, monospace"><text x="524.2" y="0" textLength="35.9" lengthAdjust="spacingAndGlyphs">digital</text><text x="567.6" y="0" textLength="26.8" lengthAdjust="spacingAndGlyphs">Input</text><text x="601.4" y="0" textLength="6.3" lengthAdjust="spacingAndGlyphs">3</text></g>
<g transform="translate(0 592.1)" fill="#ff2a2a" font-size="11" font-family="Liberation Mono, monospace"><text x="524.2" y="0" textLength="35.9" lengthAdjust="spacingAndGlyphs">digital</text><text x="567.6" y="0" textLength="26.8" lengthAdjust="spacingAndGlyphs">Input</text><text x="601.4" y="0" textLength="6.3" lengthAdjust="spacingAndGlyphs">2</text></g>
<g transform="translate(0 610.1)" fill="#ff2a2a" font-size="11" font-family="Liberation Mono, monospace"><text x="524.2" y="0" textLength="35.9" lengthAdjust="spacingAndGlyphs">digital</text><text x="567.6" y="0" textLength="26.8" lengthAdjust="spacingAndGlyphs">Input</text><text x="601.4" y="0" textLength="6.3" lengthAdjust="spacingAndGlyphs">1</text></g>
<g transform="translate(345.7 731.8)" fill="#ff2a2a" font-size="11" font-family="Liberation Mono, monospace"><text x="-0.5" y="0" textLength="20" lengthAdjust="spacingAndGlyphs">USB</text></g>
</svg>
</body></html>
